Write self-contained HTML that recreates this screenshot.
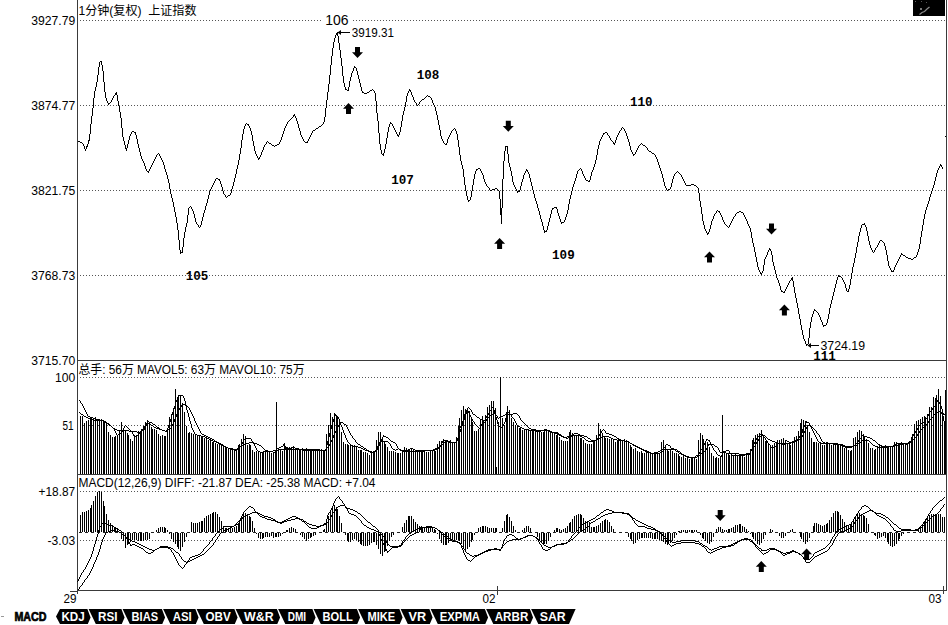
<!DOCTYPE html><html><head><meta charset="utf-8"><title>1分钟(复权) 上证指数</title><style>
html,body{margin:0;padding:0;background:#fff;}
body{width:948px;height:625px;overflow:hidden;position:relative;}
svg{display:block;position:absolute;left:0;top:0;}
text{font-family:"Liberation Sans","Noto Sans CJK SC",sans-serif;font-size:12px;fill:#000;}
.ax{text-anchor:end;}
.bn{font-family:"Liberation Mono","DejaVu Sans Mono",monospace;font-weight:bold;font-size:12.5px;}
.tab{font-family:"Liberation Sans",sans-serif;font-weight:bold;font-size:12.4px;fill:#fff;}
</style></head><body>
<svg width="948" height="625" viewBox="0 0 948 625">
<line x1="80" y1="20.5" x2="945" y2="20.5" stroke="#555" stroke-width="1" stroke-dasharray="1 2" shape-rendering="crispEdges"/>
<line x1="80" y1="105.5" x2="945" y2="105.5" stroke="#555" stroke-width="1" stroke-dasharray="1 2" shape-rendering="crispEdges"/>
<line x1="80" y1="190.5" x2="945" y2="190.5" stroke="#555" stroke-width="1" stroke-dasharray="1 2" shape-rendering="crispEdges"/>
<line x1="80" y1="275.5" x2="945" y2="275.5" stroke="#555" stroke-width="1" stroke-dasharray="1 2" shape-rendering="crispEdges"/>
<line x1="80" y1="377.5" x2="945" y2="377.5" stroke="#555" stroke-width="1" stroke-dasharray="1 2" shape-rendering="crispEdges"/>
<line x1="80" y1="425.5" x2="945" y2="425.5" stroke="#555" stroke-width="1" stroke-dasharray="1 2" shape-rendering="crispEdges"/>
<line x1="80" y1="491.5" x2="945" y2="491.5" stroke="#555" stroke-width="1" stroke-dasharray="1 2" shape-rendering="crispEdges"/>
<line x1="80" y1="540.5" x2="945" y2="540.5" stroke="#555" stroke-width="1" stroke-dasharray="1 2" shape-rendering="crispEdges"/>
<line x1="79" y1="532.5" x2="945" y2="532.5" stroke="#222" stroke-width="1" stroke-dasharray="3 3" shape-rendering="crispEdges"/>
<g stroke="#3a3a3a" stroke-width="1" shape-rendering="crispEdges">
<line x1="77.5" y1="0" x2="77.5" y2="594"/>
<line x1="946.5" y1="0" x2="946.5" y2="591"/>
<line x1="77" y1="360.5" x2="947" y2="360.5"/>
<line x1="77" y1="474.5" x2="947" y2="474.5"/>
<line x1="77" y1="590.5" x2="947" y2="590.5"/>
<line x1="70" y1="591.5" x2="77" y2="591.5"/>
<line x1="497.5" y1="586" x2="497.5" y2="595"/>
<line x1="943.5" y1="586" x2="943.5" y2="594"/>
</g>
<text x="31.3" y="24.5" textLength="44" lengthAdjust="spacingAndGlyphs">3927.79</text>
<text x="31.3" y="109.5" textLength="44" lengthAdjust="spacingAndGlyphs">3874.77</text>
<text x="31.3" y="194.5" textLength="44" lengthAdjust="spacingAndGlyphs">3821.75</text>
<text x="31.3" y="279.5" textLength="44" lengthAdjust="spacingAndGlyphs">3768.73</text>
<text x="31.3" y="364.5" textLength="44" lengthAdjust="spacingAndGlyphs">3715.70</text>
<text x="55.1" y="381.5" textLength="20.3" lengthAdjust="spacingAndGlyphs">100</text>
<text x="62.5" y="429.5" textLength="11.1" lengthAdjust="spacingAndGlyphs">51</text>
<text x="38.6" y="495.5" textLength="36.6" lengthAdjust="spacingAndGlyphs">+18.87</text>
<text x="47.6" y="544.5" textLength="27.6" lengthAdjust="spacingAndGlyphs">-3.03</text>
<text x="78.5" y="15" textLength="118" lengthAdjust="spacingAndGlyphs">1分钟(复权)&#160; 上证指数</text>
<text x="78.5" y="373.5" textLength="226" lengthAdjust="spacingAndGlyphs">总手: 56万 MAVOL5: 63万 MAVOL10: 75万</text>
<text x="78.5" y="487" textLength="297" lengthAdjust="spacingAndGlyphs">MACD(12,26,9) DIFF: -21.87 DEA: -25.38 MACD: +7.04</text>
<text x="63.5" y="603" textLength="13" lengthAdjust="spacingAndGlyphs">29</text>
<text x="482.5" y="603" textLength="13" lengthAdjust="spacingAndGlyphs">02</text>
<text x="928.5" y="603" textLength="13" lengthAdjust="spacingAndGlyphs">03</text>
<rect x="913" y="0" width="32" height="16" fill="#000"/>
<path d="M919.5 14.5 L922 12.5 L924.5 11.5 L927 9 L929.5 7" stroke="#8a8a8a" stroke-width="1.2" fill="none"/>
<rect x="920" y="8" width="2" height="2" fill="#777"/>
<rect x="915" y="1" width="1" height="1" fill="#666"/><rect x="921" y="1" width="1" height="1" fill="#555"/><rect x="926" y="2" width="1" height="1" fill="#555"/>
<rect x="945" y="136" width="1" height="1" fill="#000"/>
<path fill="#000" shape-rendering="crispEdges" d="M80 416h1V474h-1zM82 416h1V474h-1zM84 423h1V474h-1zM86 421h1V474h-1zM88 420h1V474h-1zM90 418h1V474h-1zM91 418h1V474h-1zM93 419h1V474h-1zM95 417h1V474h-1zM97 420h1V474h-1zM99 420h1V474h-1zM101 419h1V474h-1zM103 420h1V474h-1zM104 421h1V474h-1zM106 423h1V474h-1zM108 432h1V474h-1zM110 435h1V474h-1zM112 437h1V474h-1zM114 437h1V474h-1zM115 436h1V474h-1zM117 435h1V474h-1zM119 431h1V474h-1zM121 422h1V474h-1zM123 428h1V474h-1zM125 430h1V474h-1zM127 433h1V474h-1zM128 435h1V474h-1zM130 439h1V474h-1zM132 441h1V474h-1zM134 435h1V474h-1zM136 435h1V474h-1zM138 431h1V474h-1zM140 431h1V474h-1zM141 429h1V474h-1zM143 426h1V474h-1zM145 422h1V474h-1zM147 420h1V474h-1zM149 423h1V474h-1zM151 427h1V474h-1zM152 429h1V474h-1zM154 429h1V474h-1zM156 430h1V474h-1zM158 434h1V474h-1zM160 436h1V474h-1zM162 435h1V474h-1zM164 436h1V474h-1zM165 436h1V474h-1zM167 428h1V474h-1zM169 417h1V474h-1zM171 414h1V474h-1zM173 408h1V474h-1zM175 389h1V474h-1zM177 397h1V474h-1zM178 395h1V474h-1zM180 396h1V474h-1zM182 403h1V474h-1zM184 412h1V474h-1zM186 426h1V474h-1zM188 433h1V474h-1zM189 432h1V474h-1zM191 433h1V474h-1zM193 434h1V474h-1zM195 435h1V474h-1zM197 436h1V474h-1zM199 436h1V474h-1zM201 436h1V474h-1zM202 437h1V474h-1zM204 438h1V474h-1zM206 438h1V474h-1zM208 440h1V474h-1zM210 439h1V474h-1zM212 442h1V474h-1zM213 442h1V474h-1zM215 443h1V474h-1zM217 444h1V474h-1zM219 443h1V474h-1zM221 444h1V474h-1zM223 445h1V474h-1zM225 446h1V474h-1zM226 448h1V474h-1zM228 448h1V474h-1zM230 448h1V474h-1zM232 448h1V474h-1zM234 451h1V474h-1zM236 450h1V474h-1zM238 445h1V474h-1zM239 444h1V474h-1zM241 439h1V474h-1zM243 434h1V474h-1zM245 436h1V474h-1zM247 445h1V474h-1zM249 444h1V474h-1zM250 445h1V474h-1zM252 450h1V474h-1zM254 452h1V474h-1zM256 451h1V474h-1zM258 451h1V474h-1zM260 453h1V474h-1zM262 453h1V474h-1zM263 451h1V474h-1zM265 451h1V474h-1zM267 452h1V474h-1zM269 452h1V474h-1zM271 453h1V474h-1zM273 453h1V474h-1zM275 451h1V474h-1zM276 402h1V474h-1zM278 449h1V474h-1zM280 450h1V474h-1zM282 451h1V474h-1zM284 445h1V474h-1zM286 447h1V474h-1zM287 447h1V474h-1zM289 447h1V474h-1zM291 448h1V474h-1zM293 446h1V474h-1zM295 449h1V474h-1zM297 449h1V474h-1zM299 449h1V474h-1zM300 449h1V474h-1zM302 448h1V474h-1zM304 449h1V474h-1zM306 448h1V474h-1zM308 450h1V474h-1zM310 449h1V474h-1zM311 449h1V474h-1zM313 449h1V474h-1zM315 449h1V474h-1zM317 450h1V474h-1zM319 449h1V474h-1zM321 449h1V474h-1zM323 450h1V474h-1zM324 450h1V474h-1zM326 434h1V474h-1zM328 425h1V474h-1zM330 413h1V474h-1zM332 417h1V474h-1zM334 413h1V474h-1zM336 416h1V474h-1zM337 417h1V474h-1zM339 422h1V474h-1zM341 432h1V474h-1zM343 442h1V474h-1zM345 444h1V474h-1zM347 444h1V474h-1zM348 445h1V474h-1zM350 445h1V474h-1zM352 445h1V474h-1zM354 445h1V474h-1zM356 446h1V474h-1zM358 450h1V474h-1zM360 450h1V474h-1zM361 450h1V474h-1zM363 452h1V474h-1zM365 452h1V474h-1zM367 453h1V474h-1zM369 455h1V474h-1zM371 451h1V474h-1zM373 451h1V474h-1zM374 452h1V474h-1zM376 440h1V474h-1zM378 432h1V474h-1zM380 432h1V474h-1zM382 438h1V474h-1zM384 442h1V474h-1zM385 444h1V474h-1zM387 447h1V474h-1zM389 451h1V474h-1zM391 451h1V474h-1zM393 451h1V474h-1zM395 452h1V474h-1zM397 453h1V474h-1zM398 453h1V474h-1zM400 453h1V474h-1zM402 452h1V474h-1zM404 447h1V474h-1zM406 448h1V474h-1zM408 449h1V474h-1zM409 449h1V474h-1zM411 449h1V474h-1zM413 449h1V474h-1zM415 450h1V474h-1zM417 450h1V474h-1zM419 451h1V474h-1zM421 452h1V474h-1zM422 451h1V474h-1zM424 452h1V474h-1zM426 452h1V474h-1zM428 452h1V474h-1zM430 451h1V474h-1zM432 451h1V474h-1zM434 451h1V474h-1zM435 451h1V474h-1zM437 444h1V474h-1zM439 441h1V474h-1zM441 441h1V474h-1zM443 439h1V474h-1zM445 440h1V474h-1zM446 441h1V474h-1zM448 442h1V474h-1zM450 440h1V474h-1zM452 442h1V474h-1zM454 443h1V474h-1zM456 437h1V474h-1zM458 426h1V474h-1zM459 418h1V474h-1zM461 410h1V474h-1zM463 406h1V474h-1zM465 409h1V474h-1zM467 409h1V474h-1zM469 411h1V474h-1zM471 418h1V474h-1zM472 422h1V474h-1zM474 431h1V474h-1zM476 431h1V474h-1zM478 429h1V474h-1zM480 420h1V474h-1zM482 416h1V474h-1zM483 420h1V474h-1zM485 415h1V474h-1zM487 407h1V474h-1zM489 405h1V474h-1zM491 401h1V474h-1zM493 401h1V474h-1zM495 408h1V474h-1zM496 467h1V474h-1zM498 422h1V474h-1zM500 377h1V474h-1zM502 418h1V474h-1zM504 425h1V474h-1zM506 412h1V474h-1zM507 406h1V474h-1zM509 410h1V474h-1zM511 418h1V474h-1zM513 422h1V474h-1zM515 425h1V474h-1zM517 426h1V474h-1zM519 428h1V474h-1zM520 428h1V474h-1zM522 430h1V474h-1zM524 429h1V474h-1zM526 430h1V474h-1zM528 430h1V474h-1zM530 431h1V474h-1zM532 429h1V474h-1zM533 429h1V474h-1zM535 430h1V474h-1zM537 431h1V474h-1zM539 431h1V474h-1zM541 432h1V474h-1zM543 432h1V474h-1zM544 431h1V474h-1zM546 429h1V474h-1zM548 430h1V474h-1zM550 432h1V474h-1zM552 432h1V474h-1zM554 432h1V474h-1zM556 435h1V474h-1zM557 433h1V474h-1zM559 437h1V474h-1zM561 440h1V474h-1zM563 441h1V474h-1zM565 441h1V474h-1zM567 441h1V474h-1zM569 432h1V474h-1zM570 430h1V474h-1zM572 433h1V474h-1zM574 435h1V474h-1zM576 435h1V474h-1zM578 436h1V474h-1zM580 438h1V474h-1zM581 438h1V474h-1zM583 440h1V474h-1zM585 443h1V474h-1zM587 444h1V474h-1zM589 444h1V474h-1zM591 444h1V474h-1zM593 441h1V474h-1zM594 441h1V474h-1zM596 435h1V474h-1zM598 423h1V474h-1zM600 429h1V474h-1zM602 433h1V474h-1zM604 436h1V474h-1zM605 438h1V474h-1zM607 438h1V474h-1zM609 439h1V474h-1zM611 439h1V474h-1zM613 440h1V474h-1zM615 442h1V474h-1zM617 441h1V474h-1zM618 439h1V474h-1zM620 439h1V474h-1zM622 440h1V474h-1zM624 439h1V474h-1zM626 440h1V474h-1zM628 441h1V474h-1zM630 445h1V474h-1zM631 447h1V474h-1zM633 449h1V474h-1zM635 448h1V474h-1zM637 451h1V474h-1zM639 452h1V474h-1zM641 451h1V474h-1zM642 453h1V474h-1zM644 453h1V474h-1zM646 451h1V474h-1zM648 453h1V474h-1zM650 452h1V474h-1zM652 453h1V474h-1zM654 454h1V474h-1zM655 454h1V474h-1zM657 453h1V474h-1zM659 454h1V474h-1zM661 442h1V474h-1zM663 440h1V474h-1zM665 446h1V474h-1zM667 450h1V474h-1zM668 451h1V474h-1zM670 450h1V474h-1zM672 451h1V474h-1zM674 453h1V474h-1zM676 453h1V474h-1zM678 454h1V474h-1zM679 456h1V474h-1zM681 457h1V474h-1zM683 456h1V474h-1zM685 458h1V474h-1zM687 458h1V474h-1zM689 459h1V474h-1zM691 457h1V474h-1zM692 457h1V474h-1zM694 457h1V474h-1zM696 459h1V474h-1zM698 440h1V474h-1zM700 433h1V474h-1zM702 435h1V474h-1zM703 439h1V474h-1zM705 442h1V474h-1zM707 442h1V474h-1zM709 447h1V474h-1zM711 453h1V474h-1zM713 456h1V474h-1zM715 458h1V474h-1zM716 457h1V474h-1zM718 458h1V474h-1zM720 457h1V474h-1zM722 415h1V474h-1zM724 453h1V474h-1zM726 454h1V474h-1zM728 453h1V474h-1zM729 455h1V474h-1zM731 454h1V474h-1zM733 456h1V474h-1zM735 454h1V474h-1zM737 456h1V474h-1zM739 455h1V474h-1zM740 455h1V474h-1zM742 456h1V474h-1zM744 457h1V474h-1zM746 455h1V474h-1zM748 455h1V474h-1zM750 449h1V474h-1zM752 440h1V474h-1zM753 438h1V474h-1zM755 435h1V474h-1zM757 434h1V474h-1zM759 433h1V474h-1zM761 430h1V474h-1zM763 436h1V474h-1zM765 441h1V474h-1zM766 441h1V474h-1zM768 444h1V474h-1zM770 446h1V474h-1zM772 445h1V474h-1zM774 443h1V474h-1zM776 442h1V474h-1zM777 440h1V474h-1zM779 440h1V474h-1zM781 439h1V474h-1zM783 438h1V474h-1zM785 440h1V474h-1zM787 444h1V474h-1zM789 443h1V474h-1zM790 445h1V474h-1zM792 442h1V474h-1zM794 437h1V474h-1zM796 436h1V474h-1zM798 431h1V474h-1zM800 423h1V474h-1zM801 419h1V474h-1zM803 420h1V474h-1zM805 421h1V474h-1zM807 425h1V474h-1zM809 432h1V474h-1zM811 438h1V474h-1zM813 442h1V474h-1zM814 442h1V474h-1zM816 442h1V474h-1zM818 443h1V474h-1zM820 443h1V474h-1zM822 445h1V474h-1zM824 445h1V474h-1zM826 442h1V474h-1zM827 442h1V474h-1zM829 444h1V474h-1zM831 445h1V474h-1zM833 444h1V474h-1zM835 444h1V474h-1zM837 444h1V474h-1zM838 444h1V474h-1zM840 446h1V474h-1zM842 446h1V474h-1zM844 448h1V474h-1zM846 448h1V474h-1zM848 450h1V474h-1zM850 451h1V474h-1zM851 450h1V474h-1zM853 438h1V474h-1zM855 437h1V474h-1zM857 432h1V474h-1zM859 430h1V474h-1zM861 431h1V474h-1zM863 434h1V474h-1zM864 436h1V474h-1zM866 439h1V474h-1zM868 443h1V474h-1zM870 448h1V474h-1zM872 448h1V474h-1zM874 450h1V474h-1zM875 449h1V474h-1zM877 446h1V474h-1zM879 445h1V474h-1zM881 446h1V474h-1zM883 447h1V474h-1zM885 445h1V474h-1zM887 446h1V474h-1zM888 446h1V474h-1zM890 447h1V474h-1zM892 447h1V474h-1zM894 442h1V474h-1zM896 442h1V474h-1zM898 443h1V474h-1zM899 444h1V474h-1zM901 442h1V474h-1zM903 443h1V474h-1zM905 445h1V474h-1zM907 445h1V474h-1zM909 441h1V474h-1zM911 437h1V474h-1zM912 434h1V474h-1zM914 424h1V474h-1zM916 421h1V474h-1zM918 420h1V474h-1zM920 419h1V474h-1zM922 417h1V474h-1zM924 416h1V474h-1zM925 417h1V474h-1zM927 414h1V474h-1zM929 407h1V474h-1zM931 407h1V474h-1zM933 397h1V474h-1zM935 398h1V474h-1zM936 395h1V474h-1zM938 389h1V474h-1zM940 396h1V474h-1zM942 409h1V474h-1zM944 424h1V474h-1zM945 390h1V474h-1z"/>
<path fill="#000" shape-rendering="crispEdges" d="M79 400h1v1h-1zM80 401h1v2h-1zM81 403h1v1h-1zM82 404h1v2h-1zM83 406h1v2h-1zM84 408h1v2h-1zM85 410h1v2h-1zM86 412h1v2h-1zM87 414h1v2h-1zM88 416h1v1h-1zM89 416h1v1h-1zM90 417h1v1h-1zM91 417h1v1h-1zM92 417h1v1h-1zM93 418h1v1h-1zM94 418h1v1h-1zM95 419h1v1h-1zM96 419h1v1h-1zM97 419h1v1h-1zM98 419h1v1h-1zM99 419h1v1h-1zM100 420h1v1h-1zM101 420h1v1h-1zM102 420h1v1h-1zM103 420h1v1h-1zM104 421h1v1h-1zM105 422h1v1h-1zM106 422h1v1h-1zM107 423h1v1h-1zM108 424h1v1h-1zM109 425h1v1h-1zM110 425h1v1h-1zM111 426h1v1h-1zM112 427h1v1h-1zM113 428h1v1h-1zM114 428h1v1h-1zM115 429h1v1h-1zM116 429h1v1h-1zM117 430h1v1h-1zM118 430h1v1h-1zM119 430h1v1h-1zM120 430h1v1h-1zM121 430h1v1h-1zM122 430h1v1h-1zM123 430h1v1h-1zM124 430h1v1h-1zM125 430h1v1h-1zM126 430h1v1h-1zM127 430h1v1h-1zM128 430h1v1h-1zM129 431h1v1h-1zM130 431h1v1h-1zM131 431h1v1h-1zM132 431h1v1h-1zM133 431h1v1h-1zM134 431h1v1h-1zM135 431h1v1h-1zM136 431h1v1h-1zM137 432h1v1h-1zM138 432h1v1h-1zM139 432h1v1h-1zM140 431h1v1h-1zM141 431h1v1h-1zM142 430h1v1h-1zM143 430h1v1h-1zM144 428h1v2h-1zM145 426h1v2h-1zM146 423h1v3h-1zM147 421h1v2h-1zM148 421h1v1h-1zM149 422h1v1h-1zM150 422h1v1h-1zM151 422h1v1h-1zM152 423h1v1h-1zM153 424h1v1h-1zM154 424h1v1h-1zM155 425h1v1h-1zM156 426h1v1h-1zM157 427h1v1h-1zM158 427h1v1h-1zM159 428h1v1h-1zM160 429h1v1h-1zM161 429h1v1h-1zM162 430h1v1h-1zM163 430h1v1h-1zM164 430h1v1h-1zM165 431h1v1h-1zM166 430h1v2h-1zM167 428h1v2h-1zM168 425h1v3h-1zM169 422h1v3h-1zM170 419h1v3h-1zM171 415h1v4h-1zM172 412h1v3h-1zM173 409h1v3h-1zM174 406h1v3h-1zM175 402h1v4h-1zM176 400h1v2h-1zM177 398h1v2h-1zM178 396h1v2h-1zM179 395h1v1h-1zM180 395h1v1h-1zM181 395h1v1h-1zM182 395h1v1h-1zM183 396h1v2h-1zM184 398h1v3h-1zM185 401h1v5h-1zM186 406h1v4h-1zM187 410h1v3h-1zM188 413h1v4h-1zM189 417h1v4h-1zM190 421h1v3h-1zM191 424h1v4h-1zM192 428h1v2h-1zM193 430h1v2h-1zM194 432h1v2h-1zM195 434h1v1h-1zM196 434h1v1h-1zM197 435h1v1h-1zM198 435h1v1h-1zM199 435h1v1h-1zM200 435h1v1h-1zM201 436h1v1h-1zM202 436h1v1h-1zM203 436h1v1h-1zM204 436h1v1h-1zM205 437h1v1h-1zM206 437h1v1h-1zM207 438h1v1h-1zM208 438h1v1h-1zM209 439h1v1h-1zM210 439h1v1h-1zM211 440h1v1h-1zM212 440h1v1h-1zM213 441h1v1h-1zM214 441h1v1h-1zM215 441h1v1h-1zM216 442h1v1h-1zM217 442h1v1h-1zM218 442h1v1h-1zM219 443h1v1h-1zM220 443h1v1h-1zM221 444h1v1h-1zM222 444h1v1h-1zM223 445h1v1h-1zM224 446h1v1h-1zM225 446h1v1h-1zM226 447h1v1h-1zM227 447h1v1h-1zM228 448h1v1h-1zM229 448h1v1h-1zM230 448h1v1h-1zM231 449h1v1h-1zM232 449h1v1h-1zM233 449h1v1h-1zM234 450h1v1h-1zM235 450h1v1h-1zM236 450h1v1h-1zM237 449h1v1h-1zM238 448h1v1h-1zM239 447h1v1h-1zM240 446h1v1h-1zM241 444h1v2h-1zM242 442h1v2h-1zM243 440h1v2h-1zM244 439h1v1h-1zM245 438h1v1h-1zM246 438h1v1h-1zM247 438h1v1h-1zM248 438h1v1h-1zM249 438h1v1h-1zM250 438h1v1h-1zM251 439h1v2h-1zM252 441h1v2h-1zM253 443h1v1h-1zM254 444h1v2h-1zM255 446h1v2h-1zM256 448h1v2h-1zM257 450h1v1h-1zM258 451h1v1h-1zM259 451h1v1h-1zM260 452h1v1h-1zM261 452h1v1h-1zM262 452h1v1h-1zM263 451h1v1h-1zM264 451h1v1h-1zM265 451h1v1h-1zM266 451h1v1h-1zM267 451h1v1h-1zM268 451h1v1h-1zM269 451h1v1h-1zM270 451h1v1h-1zM271 451h1v1h-1zM272 451h1v1h-1zM273 452h1v1h-1zM274 452h1v1h-1zM275 450h1v2h-1zM276 449h1v1h-1zM277 448h1v1h-1zM278 448h1v1h-1zM279 447h1v1h-1zM280 447h1v1h-1zM281 446h1v1h-1zM282 446h1v1h-1zM283 444h1v2h-1zM284 443h1v3h-1zM285 446h1v4h-1zM286 449h1v1h-1zM287 448h1v1h-1zM288 448h1v1h-1zM289 448h1v1h-1zM290 448h1v1h-1zM291 447h1v1h-1zM292 447h1v1h-1zM293 447h1v1h-1zM294 447h1v1h-1zM295 448h1v1h-1zM296 448h1v1h-1zM297 448h1v1h-1zM298 448h1v1h-1zM299 449h1v1h-1zM300 449h1v1h-1zM301 449h1v1h-1zM302 449h1v1h-1zM303 449h1v1h-1zM304 449h1v1h-1zM305 449h1v1h-1zM306 449h1v1h-1zM307 449h1v1h-1zM308 449h1v1h-1zM309 449h1v1h-1zM310 449h1v1h-1zM311 449h1v1h-1zM312 449h1v1h-1zM313 449h1v1h-1zM314 449h1v1h-1zM315 449h1v1h-1zM316 449h1v1h-1zM317 449h1v1h-1zM318 449h1v1h-1zM319 449h1v1h-1zM320 450h1v1h-1zM321 450h1v1h-1zM322 450h1v1h-1zM323 450h1v1h-1zM324 450h1v1h-1zM325 449h1v2h-1zM326 445h1v4h-1zM327 441h1v4h-1zM328 437h1v4h-1zM329 433h1v4h-1zM330 429h1v4h-1zM331 425h1v4h-1zM332 422h1v3h-1zM333 419h1v3h-1zM334 416h1v3h-1zM335 414h1v2h-1zM336 415h1v1h-1zM337 416h1v1h-1zM338 417h1v2h-1zM339 419h1v3h-1zM340 422h1v3h-1zM341 425h1v2h-1zM342 427h1v3h-1zM343 430h1v3h-1zM344 433h1v2h-1zM345 435h1v3h-1zM346 438h1v2h-1zM347 440h1v2h-1zM348 442h1v1h-1zM349 443h1v1h-1zM350 444h1v1h-1zM351 445h1v1h-1zM352 445h1v1h-1zM353 446h1v1h-1zM354 446h1v1h-1zM355 446h1v1h-1zM356 446h1v1h-1zM357 446h1v1h-1zM358 447h1v1h-1zM359 447h1v1h-1zM360 447h1v1h-1zM361 448h1v1h-1zM362 448h1v1h-1zM363 449h1v1h-1zM364 449h1v1h-1zM365 450h1v1h-1zM366 450h1v1h-1zM367 450h1v1h-1zM368 451h1v1h-1zM369 451h1v1h-1zM370 452h1v1h-1zM371 452h1v1h-1zM372 452h1v1h-1zM373 451h1v1h-1zM374 451h1v1h-1zM375 450h1v2h-1zM376 448h1v2h-1zM377 446h1v2h-1zM378 444h1v2h-1zM379 442h1v2h-1zM380 440h1v2h-1zM381 440h1v1h-1zM382 441h1v1h-1zM383 441h1v1h-1zM384 441h1v1h-1zM385 441h1v1h-1zM386 441h1v1h-1zM387 441h1v1h-1zM388 442h1v1h-1zM389 443h1v1h-1zM390 444h1v2h-1zM391 446h1v2h-1zM392 448h1v1h-1zM393 449h1v1h-1zM394 449h1v1h-1zM395 450h1v1h-1zM396 449h1v1h-1zM397 449h1v1h-1zM398 448h1v1h-1zM399 449h1v1h-1zM400 450h1v1h-1zM401 450h1v1h-1zM402 451h1v1h-1zM403 451h1v1h-1zM404 451h1v1h-1zM405 450h1v1h-1zM406 450h1v1h-1zM407 450h1v1h-1zM408 449h1v1h-1zM409 449h1v1h-1zM410 448h1v1h-1zM411 448h1v1h-1zM412 448h1v1h-1zM413 449h1v1h-1zM414 449h1v1h-1zM415 450h1v1h-1zM416 450h1v1h-1zM417 450h1v1h-1zM418 450h1v1h-1zM419 450h1v1h-1zM420 450h1v1h-1zM421 450h1v1h-1zM422 450h1v1h-1zM423 450h1v1h-1zM424 450h1v1h-1zM425 450h1v1h-1zM426 450h1v1h-1zM427 450h1v1h-1zM428 450h1v1h-1zM429 450h1v1h-1zM430 450h1v1h-1zM431 450h1v1h-1zM432 450h1v1h-1zM433 450h1v1h-1zM434 450h1v1h-1zM435 449h1v1h-1zM436 449h1v1h-1zM437 448h1v1h-1zM438 448h1v1h-1zM439 447h1v1h-1zM440 445h1v2h-1zM441 443h1v2h-1zM442 441h1v2h-1zM443 440h1v1h-1zM444 440h1v1h-1zM445 440h1v1h-1zM446 440h1v1h-1zM447 440h1v1h-1zM448 441h1v1h-1zM449 441h1v1h-1zM450 442h1v1h-1zM451 442h1v1h-1zM452 442h1v1h-1zM453 442h1v1h-1zM454 442h1v1h-1zM455 442h1v1h-1zM456 441h1v1h-1zM457 438h1v3h-1zM458 432h1v6h-1zM459 428h1v4h-1zM460 426h1v2h-1zM461 424h1v2h-1zM462 421h1v3h-1zM463 418h1v3h-1zM464 414h1v4h-1zM465 412h1v2h-1zM466 410h1v2h-1zM467 408h1v2h-1zM468 407h1v1h-1zM469 408h1v1h-1zM470 409h1v1h-1zM471 410h1v2h-1zM472 412h1v2h-1zM473 414h1v1h-1zM474 414h1v1h-1zM475 415h1v1h-1zM476 416h1v1h-1zM477 417h1v1h-1zM478 417h1v1h-1zM479 418h1v1h-1zM480 419h1v1h-1zM481 419h1v1h-1zM482 419h1v1h-1zM483 420h1v1h-1zM484 420h1v1h-1zM485 418h1v2h-1zM486 416h1v2h-1zM487 415h1v1h-1zM488 413h1v2h-1zM489 411h1v2h-1zM490 410h1v1h-1zM491 408h1v2h-1zM492 407h1v1h-1zM493 408h1v2h-1zM494 410h1v3h-1zM495 413h1v4h-1zM496 417h1v3h-1zM497 420h1v4h-1zM498 424h1v3h-1zM499 426h1v1h-1zM500 427h1v1h-1zM501 427h1v1h-1zM502 426h1v1h-1zM503 424h1v2h-1zM504 422h1v2h-1zM505 418h1v4h-1zM506 414h1v4h-1zM507 411h1v3h-1zM508 412h1v1h-1zM509 413h1v1h-1zM510 414h1v1h-1zM511 415h1v2h-1zM512 417h1v1h-1zM513 418h1v1h-1zM514 419h1v2h-1zM515 421h1v2h-1zM516 423h1v2h-1zM517 425h1v1h-1zM518 426h1v1h-1zM519 426h1v1h-1zM520 427h1v1h-1zM521 427h1v1h-1zM522 428h1v1h-1zM523 428h1v1h-1zM524 429h1v1h-1zM525 429h1v1h-1zM526 429h1v1h-1zM527 429h1v1h-1zM528 429h1v1h-1zM529 430h1v1h-1zM530 430h1v1h-1zM531 430h1v1h-1zM532 430h1v1h-1zM533 430h1v1h-1zM534 430h1v1h-1zM535 430h1v1h-1zM536 431h1v1h-1zM537 431h1v1h-1zM538 431h1v1h-1zM539 431h1v1h-1zM540 431h1v1h-1zM541 430h1v1h-1zM542 430h1v1h-1zM543 430h1v1h-1zM544 429h1v1h-1zM545 429h1v1h-1zM546 429h1v1h-1zM547 430h1v1h-1zM548 430h1v1h-1zM549 431h1v1h-1zM550 431h1v1h-1zM551 432h1v1h-1zM552 432h1v1h-1zM553 432h1v1h-1zM554 432h1v1h-1zM555 432h1v1h-1zM556 432h1v1h-1zM557 432h1v1h-1zM558 433h1v1h-1zM559 434h1v1h-1zM560 434h1v1h-1zM561 435h1v1h-1zM562 436h1v1h-1zM563 436h1v1h-1zM564 437h1v1h-1zM565 437h1v1h-1zM566 438h1v1h-1zM567 438h1v1h-1zM568 437h1v1h-1zM569 436h1v1h-1zM570 436h1v1h-1zM571 435h1v1h-1zM572 434h1v1h-1zM573 434h1v1h-1zM574 433h1v1h-1zM575 433h1v1h-1zM576 433h1v1h-1zM577 433h1v1h-1zM578 434h1v1h-1zM579 434h1v1h-1zM580 435h1v1h-1zM581 435h1v1h-1zM582 435h1v1h-1zM583 435h1v1h-1zM584 436h1v1h-1zM585 436h1v1h-1zM586 436h1v1h-1zM587 437h1v1h-1zM588 438h1v1h-1zM589 438h1v1h-1zM590 439h1v1h-1zM591 440h1v1h-1zM592 440h1v1h-1zM593 440h1v1h-1zM594 440h1v1h-1zM595 440h1v1h-1zM596 440h1v1h-1zM597 438h1v2h-1zM598 436h1v2h-1zM599 434h1v2h-1zM600 433h1v1h-1zM601 431h1v2h-1zM602 430h1v1h-1zM603 429h1v1h-1zM604 430h1v1h-1zM605 431h1v2h-1zM606 433h1v1h-1zM607 433h1v1h-1zM608 433h1v1h-1zM609 434h1v1h-1zM610 434h1v1h-1zM611 434h1v1h-1zM612 435h1v1h-1zM613 435h1v1h-1zM614 436h1v1h-1zM615 436h1v1h-1zM616 437h1v1h-1zM617 438h1v1h-1zM618 438h1v1h-1zM619 439h1v1h-1zM620 439h1v1h-1zM621 440h1v1h-1zM622 440h1v1h-1zM623 440h1v1h-1zM624 440h1v1h-1zM625 441h1v1h-1zM626 441h1v1h-1zM627 441h1v1h-1zM628 441h1v1h-1zM629 442h1v1h-1zM630 443h1v1h-1zM631 443h1v1h-1zM632 444h1v1h-1zM633 444h1v1h-1zM634 445h1v1h-1zM635 445h1v1h-1zM636 446h1v1h-1zM637 446h1v1h-1zM638 447h1v1h-1zM639 447h1v1h-1zM640 448h1v1h-1zM641 449h1v1h-1zM642 449h1v1h-1zM643 450h1v1h-1zM644 450h1v1h-1zM645 451h1v1h-1zM646 451h1v1h-1zM647 452h1v1h-1zM648 452h1v1h-1zM649 452h1v1h-1zM650 452h1v1h-1zM651 453h1v1h-1zM652 453h1v1h-1zM653 453h1v1h-1zM654 452h1v1h-1zM655 452h1v1h-1zM656 452h1v1h-1zM657 452h1v1h-1zM658 451h1v1h-1zM659 451h1v1h-1zM660 450h1v1h-1zM661 449h1v1h-1zM662 449h1v1h-1zM663 448h1v1h-1zM664 447h1v1h-1zM665 445h1v2h-1zM666 444h1v1h-1zM667 444h1v1h-1zM668 445h1v1h-1zM669 445h1v1h-1zM670 446h1v2h-1zM671 448h1v1h-1zM672 448h1v1h-1zM673 448h1v1h-1zM674 449h1v1h-1zM675 449h1v1h-1zM676 449h1v1h-1zM677 450h1v1h-1zM678 451h1v1h-1zM679 451h1v1h-1zM680 452h1v1h-1zM681 453h1v1h-1zM682 454h1v1h-1zM683 454h1v1h-1zM684 455h1v1h-1zM685 456h1v1h-1zM686 456h1v1h-1zM687 457h1v1h-1zM688 457h1v1h-1zM689 457h1v1h-1zM690 457h1v1h-1zM691 457h1v1h-1zM692 457h1v1h-1zM693 457h1v1h-1zM694 457h1v1h-1zM695 456h1v1h-1zM696 455h1v1h-1zM697 455h1v1h-1zM698 454h1v1h-1zM699 452h1v2h-1zM700 450h1v2h-1zM701 449h1v1h-1zM702 447h1v2h-1zM703 445h1v2h-1zM704 443h1v2h-1zM705 441h1v2h-1zM706 439h1v2h-1zM707 439h1v1h-1zM708 440h1v1h-1zM709 440h1v2h-1zM710 442h1v2h-1zM711 444h1v2h-1zM712 446h1v2h-1zM713 448h1v2h-1zM714 450h1v1h-1zM715 451h1v1h-1zM716 452h1v2h-1zM717 454h1v1h-1zM718 455h1v1h-1zM719 455h1v1h-1zM720 456h1v1h-1zM721 455h1v2h-1zM722 453h1v2h-1zM723 451h1v2h-1zM724 451h1v1h-1zM725 451h1v1h-1zM726 450h1v1h-1zM727 450h1v1h-1zM728 450h1v1h-1zM729 451h1v2h-1zM730 453h1v1h-1zM731 454h1v1h-1zM732 455h1v1h-1zM733 455h1v1h-1zM734 455h1v1h-1zM735 455h1v1h-1zM736 455h1v1h-1zM737 455h1v1h-1zM738 455h1v1h-1zM739 455h1v1h-1zM740 455h1v1h-1zM741 455h1v1h-1zM742 455h1v1h-1zM743 455h1v1h-1zM744 455h1v1h-1zM745 454h1v1h-1zM746 454h1v1h-1zM747 454h1v1h-1zM748 454h1v1h-1zM749 453h1v2h-1zM750 451h1v2h-1zM751 449h1v2h-1zM752 446h1v3h-1zM753 444h1v2h-1zM754 442h1v2h-1zM755 440h1v2h-1zM756 438h1v2h-1zM757 437h1v1h-1zM758 436h1v1h-1zM759 435h1v1h-1zM760 434h1v1h-1zM761 433h1v1h-1zM762 434h1v2h-1zM763 436h1v1h-1zM764 437h1v1h-1zM765 438h1v2h-1zM766 440h1v1h-1zM767 441h1v2h-1zM768 443h1v1h-1zM769 444h1v1h-1zM770 445h1v2h-1zM771 447h1v1h-1zM772 447h1v1h-1zM773 447h1v1h-1zM774 447h1v1h-1zM775 446h1v1h-1zM776 445h1v1h-1zM777 444h1v1h-1zM778 443h1v1h-1zM779 443h1v1h-1zM780 443h1v1h-1zM781 443h1v1h-1zM782 443h1v1h-1zM783 443h1v1h-1zM784 443h1v1h-1zM785 441h1v2h-1zM786 440h1v1h-1zM787 441h1v1h-1zM788 441h1v1h-1zM789 442h1v1h-1zM790 442h1v1h-1zM791 442h1v1h-1zM792 441h1v1h-1zM793 441h1v1h-1zM794 441h1v1h-1zM795 440h1v1h-1zM796 440h1v1h-1zM797 439h1v1h-1zM798 438h1v1h-1zM799 436h1v2h-1zM800 435h1v1h-1zM801 433h1v2h-1zM802 429h1v4h-1zM803 427h1v2h-1zM804 425h1v2h-1zM805 423h1v2h-1zM806 421h1v2h-1zM807 422h1v1h-1zM808 422h1v1h-1zM809 423h1v2h-1zM810 425h1v2h-1zM811 427h1v2h-1zM812 429h1v2h-1zM813 431h1v2h-1zM814 433h1v2h-1zM815 435h1v2h-1zM816 437h1v2h-1zM817 439h1v2h-1zM818 441h1v1h-1zM819 442h1v1h-1zM820 442h1v1h-1zM821 443h1v1h-1zM822 443h1v1h-1zM823 443h1v1h-1zM824 443h1v1h-1zM825 443h1v1h-1zM826 443h1v1h-1zM827 443h1v1h-1zM828 443h1v1h-1zM829 443h1v1h-1zM830 443h1v1h-1zM831 443h1v1h-1zM832 443h1v1h-1zM833 443h1v1h-1zM834 444h1v1h-1zM835 444h1v1h-1zM836 444h1v1h-1zM837 444h1v1h-1zM838 444h1v1h-1zM839 444h1v1h-1zM840 445h1v1h-1zM841 445h1v1h-1zM842 445h1v1h-1zM843 446h1v1h-1zM844 446h1v1h-1zM845 447h1v1h-1zM846 447h1v1h-1zM847 447h1v1h-1zM848 447h1v1h-1zM849 447h1v1h-1zM850 447h1v1h-1zM851 447h1v1h-1zM852 446h1v1h-1zM853 445h1v1h-1zM854 445h1v1h-1zM855 444h1v1h-1zM856 443h1v1h-1zM857 442h1v1h-1zM858 440h1v2h-1zM859 439h1v1h-1zM860 438h1v1h-1zM861 436h1v2h-1zM862 435h1v1h-1zM863 435h1v1h-1zM864 436h1v1h-1zM865 436h1v1h-1zM866 436h1v1h-1zM867 437h1v1h-1zM868 437h1v1h-1zM869 437h1v1h-1zM870 438h1v1h-1zM871 438h1v1h-1zM872 439h1v1h-1zM873 440h1v1h-1zM874 440h1v1h-1zM875 441h1v1h-1zM876 442h1v1h-1zM877 443h1v1h-1zM878 444h1v1h-1zM879 444h1v1h-1zM880 445h1v1h-1zM881 445h1v1h-1zM882 446h1v1h-1zM883 446h1v1h-1zM884 446h1v1h-1zM885 446h1v1h-1zM886 446h1v1h-1zM887 446h1v1h-1zM888 446h1v1h-1zM889 446h1v1h-1zM890 446h1v1h-1zM891 446h1v1h-1zM892 446h1v1h-1zM893 445h1v1h-1zM894 445h1v1h-1zM895 444h1v1h-1zM896 444h1v1h-1zM897 443h1v1h-1zM898 443h1v1h-1zM899 443h1v1h-1zM900 443h1v1h-1zM901 443h1v1h-1zM902 443h1v1h-1zM903 443h1v1h-1zM904 443h1v1h-1zM905 444h1v1h-1zM906 444h1v1h-1zM907 444h1v1h-1zM908 443h1v1h-1zM909 443h1v1h-1zM910 441h1v2h-1zM911 438h1v3h-1zM912 436h1v2h-1zM913 434h1v2h-1zM914 433h1v1h-1zM915 431h1v2h-1zM916 430h1v1h-1zM917 428h1v2h-1zM918 426h1v2h-1zM919 425h1v1h-1zM920 424h1v1h-1zM921 423h1v1h-1zM922 423h1v1h-1zM923 422h1v1h-1zM924 421h1v1h-1zM925 419h1v2h-1zM926 418h1v1h-1zM927 416h1v2h-1zM928 414h1v2h-1zM929 412h1v2h-1zM930 411h1v1h-1zM931 410h1v1h-1zM932 408h1v2h-1zM933 407h1v1h-1zM934 406h1v1h-1zM935 404h1v2h-1zM936 402h1v2h-1zM937 400h1v2h-1zM938 401h1v1h-1zM939 402h1v2h-1zM940 404h1v2h-1zM941 406h1v3h-1zM942 409h1v4h-1zM943 413h1v2h-1zM944 414h1v1h-1z"/>
<path fill="#000" shape-rendering="crispEdges" d="M79 412h1v1h-1zM80 413h1v1h-1zM81 414h1v1h-1zM82 414h1v1h-1zM83 415h1v1h-1zM84 416h1v1h-1zM85 416h1v1h-1zM86 417h1v1h-1zM87 417h1v1h-1zM88 418h1v1h-1zM89 418h1v1h-1zM90 418h1v1h-1zM91 419h1v1h-1zM92 419h1v1h-1zM93 419h1v1h-1zM94 420h1v1h-1zM95 420h1v1h-1zM96 420h1v1h-1zM97 420h1v1h-1zM98 420h1v1h-1zM99 420h1v1h-1zM100 420h1v1h-1zM101 420h1v1h-1zM102 420h1v1h-1zM103 421h1v1h-1zM104 421h1v1h-1zM105 421h1v1h-1zM106 422h1v1h-1zM107 423h1v1h-1zM108 423h1v1h-1zM109 424h1v1h-1zM110 425h1v1h-1zM111 426h1v1h-1zM112 427h1v1h-1zM113 428h1v1h-1zM114 429h1v2h-1zM115 431h1v2h-1zM116 433h1v2h-1zM117 435h1v1h-1zM118 434h1v1h-1zM119 433h1v1h-1zM120 433h1v1h-1zM121 432h1v1h-1zM122 430h1v2h-1zM123 428h1v2h-1zM124 426h1v2h-1zM125 425h1v1h-1zM126 426h1v1h-1zM127 427h1v1h-1zM128 428h1v1h-1zM129 429h1v1h-1zM130 430h1v1h-1zM131 431h1v1h-1zM132 432h1v2h-1zM133 434h1v2h-1zM134 436h1v2h-1zM135 436h1v1h-1zM136 436h1v1h-1zM137 435h1v1h-1zM138 434h1v1h-1zM139 433h1v1h-1zM140 432h1v1h-1zM141 431h1v1h-1zM142 429h1v2h-1zM143 428h1v1h-1zM144 426h1v2h-1zM145 425h1v1h-1zM146 424h1v1h-1zM147 424h1v1h-1zM148 423h1v1h-1zM149 423h1v1h-1zM150 424h1v1h-1zM151 425h1v1h-1zM152 425h1v1h-1zM153 426h1v1h-1zM154 427h1v1h-1zM155 427h1v1h-1zM156 428h1v1h-1zM157 428h1v1h-1zM158 428h1v1h-1zM159 429h1v1h-1zM160 429h1v1h-1zM161 429h1v1h-1zM162 430h1v1h-1zM163 430h1v1h-1zM164 430h1v1h-1zM165 431h1v1h-1zM166 431h1v1h-1zM167 430h1v1h-1zM168 429h1v1h-1zM169 429h1v1h-1zM170 428h1v1h-1zM171 426h1v2h-1zM172 424h1v2h-1zM173 422h1v2h-1zM174 419h1v3h-1zM175 417h1v2h-1zM176 414h1v3h-1zM177 412h1v2h-1zM178 410h1v2h-1zM179 408h1v2h-1zM180 407h1v1h-1zM181 405h1v2h-1zM182 404h1v1h-1zM183 404h1v1h-1zM184 404h1v1h-1zM185 404h1v1h-1zM186 405h1v1h-1zM187 406h1v1h-1zM188 407h1v1h-1zM189 408h1v2h-1zM190 410h1v2h-1zM191 412h1v2h-1zM192 414h1v2h-1zM193 416h1v2h-1zM194 418h1v3h-1zM195 421h1v2h-1zM196 423h1v2h-1zM197 425h1v2h-1zM198 427h1v2h-1zM199 429h1v2h-1zM200 431h1v2h-1zM201 433h1v1h-1zM202 434h1v1h-1zM203 434h1v1h-1zM204 435h1v1h-1zM205 435h1v1h-1zM206 436h1v1h-1zM207 436h1v1h-1zM208 437h1v1h-1zM209 437h1v1h-1zM210 438h1v1h-1zM211 438h1v1h-1zM212 439h1v1h-1zM213 439h1v1h-1zM214 440h1v1h-1zM215 441h1v1h-1zM216 441h1v1h-1zM217 442h1v1h-1zM218 443h1v1h-1zM219 443h1v1h-1zM220 444h1v1h-1zM221 444h1v1h-1zM222 445h1v1h-1zM223 445h1v1h-1zM224 446h1v1h-1zM225 446h1v1h-1zM226 447h1v1h-1zM227 447h1v1h-1zM228 448h1v1h-1zM229 448h1v1h-1zM230 448h1v1h-1zM231 448h1v1h-1zM232 448h1v1h-1zM233 449h1v1h-1zM234 449h1v1h-1zM235 449h1v1h-1zM236 449h1v1h-1zM237 448h1v1h-1zM238 448h1v1h-1zM239 447h1v1h-1zM240 446h1v1h-1zM241 446h1v1h-1zM242 445h1v1h-1zM243 445h1v1h-1zM244 444h1v1h-1zM245 444h1v1h-1zM246 443h1v1h-1zM247 443h1v1h-1zM248 443h1v1h-1zM249 442h1v1h-1zM250 442h1v1h-1zM251 442h1v1h-1zM252 442h1v1h-1zM253 442h1v1h-1zM254 443h1v1h-1zM255 443h1v1h-1zM256 443h1v1h-1zM257 444h1v1h-1zM258 444h1v1h-1zM259 445h1v1h-1zM260 445h1v1h-1zM261 446h1v1h-1zM262 447h1v1h-1zM263 448h1v1h-1zM264 449h1v1h-1zM265 450h1v1h-1zM266 450h1v1h-1zM267 450h1v1h-1zM268 451h1v1h-1zM269 451h1v1h-1zM270 451h1v1h-1zM271 451h1v1h-1zM272 451h1v1h-1zM273 450h1v1h-1zM274 450h1v1h-1zM275 450h1v1h-1zM276 450h1v1h-1zM277 450h1v1h-1zM278 449h1v1h-1zM279 449h1v1h-1zM280 449h1v1h-1zM281 449h1v1h-1zM282 449h1v1h-1zM283 449h1v1h-1zM284 449h1v1h-1zM285 449h1v1h-1zM286 449h1v1h-1zM287 449h1v1h-1zM288 449h1v1h-1zM289 449h1v1h-1zM290 449h1v1h-1zM291 449h1v1h-1zM292 449h1v1h-1zM293 449h1v1h-1zM294 449h1v1h-1zM295 449h1v1h-1zM296 449h1v1h-1zM297 449h1v1h-1zM298 449h1v1h-1zM299 449h1v1h-1zM300 449h1v1h-1zM301 449h1v1h-1zM302 450h1v1h-1zM303 450h1v1h-1zM304 450h1v1h-1zM305 450h1v1h-1zM306 450h1v1h-1zM307 450h1v1h-1zM308 450h1v1h-1zM309 450h1v1h-1zM310 450h1v1h-1zM311 450h1v1h-1zM312 450h1v1h-1zM313 450h1v1h-1zM314 450h1v1h-1zM315 450h1v1h-1zM316 450h1v1h-1zM317 450h1v1h-1zM318 450h1v1h-1zM319 450h1v1h-1zM320 450h1v1h-1zM321 450h1v1h-1zM322 450h1v1h-1zM323 450h1v1h-1zM324 450h1v1h-1zM325 450h1v1h-1zM326 448h1v2h-1zM327 447h1v1h-1zM328 446h1v1h-1zM329 444h1v2h-1zM330 442h1v2h-1zM331 440h1v2h-1zM332 438h1v2h-1zM333 435h1v3h-1zM334 433h1v2h-1zM335 431h1v2h-1zM336 429h1v2h-1zM337 427h1v2h-1zM338 425h1v2h-1zM339 423h1v2h-1zM340 423h1v1h-1zM341 422h1v1h-1zM342 422h1v1h-1zM343 423h1v1h-1zM344 424h1v1h-1zM345 424h1v1h-1zM346 425h1v2h-1zM347 427h1v2h-1zM348 429h1v2h-1zM349 431h1v2h-1zM350 433h1v2h-1zM351 435h1v1h-1zM352 436h1v2h-1zM353 438h1v1h-1zM354 439h1v1h-1zM355 440h1v2h-1zM356 442h1v1h-1zM357 443h1v1h-1zM358 444h1v1h-1zM359 444h1v1h-1zM360 445h1v1h-1zM361 446h1v1h-1zM362 446h1v1h-1zM363 447h1v1h-1zM364 448h1v1h-1zM365 448h1v1h-1zM366 449h1v1h-1zM367 450h1v1h-1zM368 450h1v1h-1zM369 451h1v1h-1zM370 451h1v1h-1zM371 452h1v1h-1zM372 452h1v1h-1zM373 452h1v1h-1zM374 451h1v1h-1zM375 450h1v1h-1zM376 450h1v1h-1zM377 448h1v2h-1zM378 446h1v2h-1zM379 444h1v2h-1zM380 442h1v2h-1zM381 439h1v3h-1zM382 437h1v2h-1zM383 435h1v2h-1zM384 436h1v1h-1zM385 436h1v1h-1zM386 437h1v1h-1zM387 437h1v1h-1zM388 438h1v1h-1zM389 439h1v1h-1zM390 440h1v1h-1zM391 441h1v1h-1zM392 441h1v1h-1zM393 442h1v1h-1zM394 442h1v1h-1zM395 443h1v1h-1zM396 444h1v2h-1zM397 446h1v2h-1zM398 448h1v1h-1zM399 449h1v1h-1zM400 449h1v1h-1zM401 450h1v1h-1zM402 450h1v1h-1zM403 450h1v1h-1zM404 450h1v1h-1zM405 451h1v1h-1zM406 451h1v1h-1zM407 451h1v1h-1zM408 451h1v1h-1zM409 451h1v1h-1zM410 451h1v1h-1zM411 451h1v1h-1zM412 451h1v1h-1zM413 451h1v1h-1zM414 451h1v1h-1zM415 451h1v1h-1zM416 451h1v1h-1zM417 451h1v1h-1zM418 451h1v1h-1zM419 451h1v1h-1zM420 451h1v1h-1zM421 451h1v1h-1zM422 451h1v1h-1zM423 451h1v1h-1zM424 451h1v1h-1zM425 450h1v1h-1zM426 450h1v1h-1zM427 450h1v1h-1zM428 450h1v1h-1zM429 450h1v1h-1zM430 450h1v1h-1zM431 450h1v1h-1zM432 450h1v1h-1zM433 449h1v1h-1zM434 449h1v1h-1zM435 448h1v1h-1zM436 448h1v1h-1zM437 448h1v1h-1zM438 447h1v1h-1zM439 447h1v1h-1zM440 446h1v1h-1zM441 445h1v1h-1zM442 444h1v1h-1zM443 443h1v1h-1zM444 442h1v1h-1zM445 441h1v1h-1zM446 441h1v1h-1zM447 441h1v1h-1zM448 442h1v1h-1zM449 442h1v1h-1zM450 442h1v1h-1zM451 442h1v1h-1zM452 442h1v1h-1zM453 442h1v1h-1zM454 442h1v1h-1zM455 442h1v1h-1zM456 441h1v1h-1zM457 439h1v2h-1zM458 436h1v3h-1zM459 432h1v4h-1zM460 429h1v3h-1zM461 426h1v3h-1zM462 423h1v3h-1zM463 420h1v3h-1zM464 417h1v3h-1zM465 414h1v3h-1zM466 412h1v2h-1zM467 410h1v2h-1zM468 411h1v2h-1zM469 413h1v2h-1zM470 415h1v2h-1zM471 417h1v2h-1zM472 419h1v2h-1zM473 421h1v1h-1zM474 422h1v2h-1zM475 424h1v1h-1zM476 425h1v1h-1zM477 426h1v1h-1zM478 427h1v1h-1zM479 428h1v1h-1zM480 426h1v2h-1zM481 424h1v2h-1zM482 423h1v1h-1zM483 422h1v1h-1zM484 422h1v1h-1zM485 421h1v1h-1zM486 419h1v2h-1zM487 418h1v1h-1zM488 417h1v1h-1zM489 416h1v1h-1zM490 415h1v1h-1zM491 414h1v1h-1zM492 414h1v1h-1zM493 413h1v1h-1zM494 413h1v1h-1zM495 414h1v1h-1zM496 415h1v1h-1zM497 416h1v2h-1zM498 418h1v1h-1zM499 417h1v1h-1zM500 417h1v1h-1zM501 416h1v1h-1zM502 416h1v1h-1zM503 415h1v1h-1zM504 415h1v1h-1zM505 414h1v1h-1zM506 414h1v1h-1zM507 414h1v1h-1zM508 414h1v1h-1zM509 414h1v1h-1zM510 414h1v1h-1zM511 414h1v1h-1zM512 414h1v1h-1zM513 413h1v1h-1zM514 413h1v1h-1zM515 413h1v1h-1zM516 413h1v1h-1zM517 414h1v1h-1zM518 415h1v1h-1zM519 416h1v2h-1zM520 418h1v2h-1zM521 420h1v1h-1zM522 421h1v1h-1zM523 422h1v1h-1zM524 423h1v1h-1zM525 424h1v1h-1zM526 425h1v1h-1zM527 426h1v1h-1zM528 427h1v1h-1zM529 428h1v1h-1zM530 428h1v1h-1zM531 429h1v1h-1zM532 429h1v1h-1zM533 429h1v1h-1zM534 429h1v1h-1zM535 429h1v1h-1zM536 430h1v1h-1zM537 430h1v1h-1zM538 430h1v1h-1zM539 430h1v1h-1zM540 430h1v1h-1zM541 430h1v1h-1zM542 430h1v1h-1zM543 430h1v1h-1zM544 430h1v1h-1zM545 430h1v1h-1zM546 430h1v1h-1zM547 430h1v1h-1zM548 430h1v1h-1zM549 430h1v1h-1zM550 431h1v1h-1zM551 431h1v1h-1zM552 432h1v1h-1zM553 432h1v1h-1zM554 433h1v1h-1zM555 433h1v1h-1zM556 433h1v1h-1zM557 434h1v1h-1zM558 434h1v1h-1zM559 435h1v1h-1zM560 435h1v1h-1zM561 436h1v1h-1zM562 436h1v1h-1zM563 437h1v1h-1zM564 437h1v1h-1zM565 437h1v1h-1zM566 437h1v1h-1zM567 436h1v1h-1zM568 436h1v1h-1zM569 436h1v1h-1zM570 436h1v1h-1zM571 436h1v1h-1zM572 435h1v1h-1zM573 435h1v1h-1zM574 435h1v1h-1zM575 435h1v1h-1zM576 435h1v1h-1zM577 435h1v1h-1zM578 435h1v1h-1zM579 435h1v1h-1zM580 436h1v1h-1zM581 436h1v1h-1zM582 437h1v1h-1zM583 437h1v1h-1zM584 438h1v1h-1zM585 439h1v1h-1zM586 440h1v1h-1zM587 440h1v1h-1zM588 441h1v1h-1zM589 441h1v1h-1zM590 441h1v1h-1zM591 441h1v1h-1zM592 441h1v1h-1zM593 441h1v1h-1zM594 440h1v1h-1zM595 440h1v1h-1zM596 439h1v1h-1zM597 439h1v1h-1zM598 438h1v1h-1zM599 438h1v1h-1zM600 437h1v1h-1zM601 437h1v1h-1zM602 436h1v1h-1zM603 436h1v1h-1zM604 436h1v1h-1zM605 436h1v1h-1zM606 436h1v1h-1zM607 436h1v1h-1zM608 436h1v1h-1zM609 437h1v1h-1zM610 437h1v1h-1zM611 438h1v1h-1zM612 438h1v1h-1zM613 439h1v1h-1zM614 439h1v1h-1zM615 439h1v1h-1zM616 439h1v1h-1zM617 440h1v1h-1zM618 440h1v1h-1zM619 440h1v1h-1zM620 440h1v1h-1zM621 440h1v1h-1zM622 440h1v1h-1zM623 440h1v1h-1zM624 441h1v1h-1zM625 441h1v1h-1zM626 441h1v1h-1zM627 441h1v1h-1zM628 441h1v1h-1zM629 442h1v1h-1zM630 443h1v1h-1zM631 443h1v1h-1zM632 444h1v1h-1zM633 445h1v1h-1zM634 445h1v1h-1zM635 446h1v1h-1zM636 446h1v1h-1zM637 447h1v1h-1zM638 447h1v1h-1zM639 448h1v1h-1zM640 448h1v1h-1zM641 448h1v1h-1zM642 449h1v1h-1zM643 449h1v1h-1zM644 450h1v1h-1zM645 450h1v1h-1zM646 450h1v1h-1zM647 451h1v1h-1zM648 451h1v1h-1zM649 452h1v1h-1zM650 452h1v1h-1zM651 453h1v1h-1zM652 453h1v1h-1zM653 453h1v1h-1zM654 453h1v1h-1zM655 453h1v1h-1zM656 453h1v1h-1zM657 453h1v1h-1zM658 453h1v1h-1zM659 453h1v1h-1zM660 452h1v1h-1zM661 451h1v1h-1zM662 451h1v1h-1zM663 450h1v1h-1zM664 449h1v1h-1zM665 449h1v1h-1zM666 449h1v1h-1zM667 449h1v1h-1zM668 449h1v1h-1zM669 449h1v1h-1zM670 449h1v1h-1zM671 449h1v1h-1zM672 449h1v1h-1zM673 449h1v1h-1zM674 449h1v1h-1zM675 450h1v1h-1zM676 451h1v1h-1zM677 451h1v1h-1zM678 452h1v1h-1zM679 453h1v1h-1zM680 453h1v1h-1zM681 454h1v1h-1zM682 454h1v1h-1zM683 455h1v1h-1zM684 455h1v1h-1zM685 455h1v1h-1zM686 456h1v1h-1zM687 456h1v1h-1zM688 456h1v1h-1zM689 457h1v1h-1zM690 457h1v1h-1zM691 457h1v1h-1zM692 457h1v1h-1zM693 457h1v1h-1zM694 457h1v1h-1zM695 457h1v1h-1zM696 457h1v1h-1zM697 456h1v1h-1zM698 455h1v1h-1zM699 455h1v1h-1zM700 454h1v1h-1zM701 453h1v1h-1zM702 452h1v1h-1zM703 451h1v1h-1zM704 451h1v1h-1zM705 450h1v1h-1zM706 448h1v2h-1zM707 446h1v2h-1zM708 444h1v2h-1zM709 444h1v1h-1zM710 444h1v1h-1zM711 444h1v1h-1zM712 444h1v1h-1zM713 444h1v1h-1zM714 445h1v1h-1zM715 446h1v1h-1zM716 446h1v1h-1zM717 447h1v1h-1zM718 448h1v2h-1zM719 450h1v2h-1zM720 452h1v1h-1zM721 452h1v1h-1zM722 452h1v1h-1zM723 452h1v1h-1zM724 452h1v1h-1zM725 452h1v1h-1zM726 453h1v1h-1zM727 453h1v1h-1zM728 453h1v1h-1zM729 453h1v1h-1zM730 453h1v1h-1zM731 453h1v1h-1zM732 453h1v1h-1zM733 453h1v1h-1zM734 453h1v1h-1zM735 453h1v1h-1zM736 453h1v1h-1zM737 453h1v1h-1zM738 453h1v1h-1zM739 454h1v1h-1zM740 454h1v1h-1zM741 454h1v1h-1zM742 454h1v1h-1zM743 454h1v1h-1zM744 454h1v1h-1zM745 454h1v1h-1zM746 453h1v1h-1zM747 453h1v1h-1zM748 453h1v1h-1zM749 453h1v1h-1zM750 451h1v2h-1zM751 450h1v1h-1zM752 449h1v1h-1zM753 447h1v2h-1zM754 446h1v1h-1zM755 444h1v2h-1zM756 442h1v2h-1zM757 441h1v1h-1zM758 439h1v2h-1zM759 437h1v2h-1zM760 436h1v1h-1zM761 436h1v1h-1zM762 435h1v1h-1zM763 435h1v1h-1zM764 435h1v1h-1zM765 436h1v1h-1zM766 437h1v1h-1zM767 438h1v1h-1zM768 439h1v1h-1zM769 439h1v1h-1zM770 440h1v1h-1zM771 440h1v1h-1zM772 441h1v1h-1zM773 441h1v1h-1zM774 441h1v1h-1zM775 442h1v1h-1zM776 442h1v1h-1zM777 443h1v1h-1zM778 443h1v1h-1zM779 443h1v1h-1zM780 443h1v1h-1zM781 444h1v1h-1zM782 444h1v1h-1zM783 444h1v1h-1zM784 444h1v1h-1zM785 444h1v1h-1zM786 443h1v1h-1zM787 443h1v1h-1zM788 443h1v1h-1zM789 443h1v1h-1zM790 443h1v1h-1zM791 442h1v1h-1zM792 442h1v1h-1zM793 442h1v1h-1zM794 442h1v1h-1zM795 441h1v1h-1zM796 441h1v1h-1zM797 440h1v1h-1zM798 440h1v1h-1zM799 439h1v1h-1zM800 439h1v1h-1zM801 437h1v2h-1zM802 435h1v2h-1zM803 433h1v2h-1zM804 431h1v2h-1zM805 429h1v2h-1zM806 427h1v2h-1zM807 425h1v2h-1zM808 425h1v1h-1zM809 425h1v1h-1zM810 425h1v1h-1zM811 426h1v1h-1zM812 427h1v1h-1zM813 428h1v1h-1zM814 429h1v1h-1zM815 430h1v1h-1zM816 431h1v2h-1zM817 433h1v1h-1zM818 434h1v1h-1zM819 435h1v2h-1zM820 437h1v2h-1zM821 439h1v2h-1zM822 441h1v1h-1zM823 442h1v1h-1zM824 442h1v1h-1zM825 443h1v1h-1zM826 443h1v1h-1zM827 443h1v1h-1zM828 443h1v1h-1zM829 443h1v1h-1zM830 443h1v1h-1zM831 443h1v1h-1zM832 443h1v1h-1zM833 443h1v1h-1zM834 443h1v1h-1zM835 443h1v1h-1zM836 443h1v1h-1zM837 443h1v1h-1zM838 444h1v1h-1zM839 444h1v1h-1zM840 444h1v1h-1zM841 444h1v1h-1zM842 444h1v1h-1zM843 445h1v1h-1zM844 445h1v1h-1zM845 446h1v1h-1zM846 446h1v1h-1zM847 446h1v1h-1zM848 446h1v1h-1zM849 446h1v1h-1zM850 446h1v1h-1zM851 446h1v1h-1zM852 446h1v1h-1zM853 446h1v1h-1zM854 445h1v1h-1zM855 445h1v1h-1zM856 445h1v1h-1zM857 444h1v1h-1zM858 443h1v1h-1zM859 442h1v1h-1zM860 442h1v1h-1zM861 441h1v1h-1zM862 440h1v1h-1zM863 440h1v1h-1zM864 440h1v1h-1zM865 440h1v1h-1zM866 440h1v1h-1zM867 440h1v1h-1zM868 440h1v1h-1zM869 441h1v1h-1zM870 442h1v1h-1zM871 443h1v1h-1zM872 444h1v1h-1zM873 445h1v1h-1zM874 445h1v1h-1zM875 446h1v1h-1zM876 446h1v1h-1zM877 447h1v1h-1zM878 447h1v1h-1zM879 447h1v1h-1zM880 447h1v1h-1zM881 447h1v1h-1zM882 447h1v1h-1zM883 447h1v1h-1zM884 447h1v1h-1zM885 447h1v1h-1zM886 447h1v1h-1zM887 447h1v1h-1zM888 447h1v1h-1zM889 446h1v1h-1zM890 446h1v1h-1zM891 446h1v1h-1zM892 446h1v1h-1zM893 446h1v1h-1zM894 445h1v1h-1zM895 445h1v1h-1zM896 445h1v1h-1zM897 445h1v1h-1zM898 444h1v1h-1zM899 444h1v1h-1zM900 444h1v1h-1zM901 444h1v1h-1zM902 444h1v1h-1zM903 443h1v1h-1zM904 443h1v1h-1zM905 443h1v1h-1zM906 443h1v1h-1zM907 443h1v1h-1zM908 442h1v1h-1zM909 442h1v1h-1zM910 441h1v1h-1zM911 441h1v1h-1zM912 440h1v1h-1zM913 439h1v1h-1zM914 438h1v1h-1zM915 437h1v1h-1zM916 436h1v1h-1zM917 434h1v2h-1zM918 433h1v1h-1zM919 431h1v2h-1zM920 430h1v1h-1zM921 429h1v1h-1zM922 428h1v1h-1zM923 427h1v1h-1zM924 426h1v1h-1zM925 425h1v1h-1zM926 424h1v1h-1zM927 423h1v1h-1zM928 421h1v2h-1zM929 420h1v1h-1zM930 419h1v1h-1zM931 418h1v1h-1zM932 417h1v1h-1zM933 415h1v2h-1zM934 414h1v1h-1zM935 413h1v1h-1zM936 413h1v1h-1zM937 412h1v1h-1zM938 412h1v1h-1zM939 411h1v1h-1zM940 411h1v1h-1zM941 412h1v2h-1zM942 414h1v2h-1zM943 416h1v5h-1zM944 421h1v5h-1z"/>
<path fill="#000" shape-rendering="crispEdges" d="M80 515h1V532h-1zM82 512h1V532h-1zM84 512h1V532h-1zM86 511h1V532h-1zM88 510h1V532h-1zM90 508h1V532h-1zM91 505h1V532h-1zM93 501h1V532h-1zM95 496h1V532h-1zM97 492h1V532h-1zM99 491h1V532h-1zM101 492h1V532h-1zM103 501h1V532h-1zM104 506h1V532h-1zM106 514h1V532h-1zM108 520h1V532h-1zM110 523h1V532h-1zM112 525h1V532h-1zM114 527h1V532h-1zM115 527h1V532h-1zM117 529h1V532h-1zM121 533h1V539h-1zM123 533h1V541h-1zM125 533h1V548h-1zM127 533h1V545h-1zM128 533h1V544h-1zM130 533h1V542h-1zM132 533h1V540h-1zM134 533h1V540h-1zM136 533h1V540h-1zM138 533h1V541h-1zM140 533h1V541h-1zM141 533h1V541h-1zM143 533h1V541h-1zM145 533h1V540h-1zM147 533h1V540h-1zM149 533h1V539h-1zM156 530h1V532h-1zM158 528h1V532h-1zM160 527h1V532h-1zM162 527h1V532h-1zM164 527h1V532h-1zM165 528h1V532h-1zM167 530h1V532h-1zM169 533h1V534h-1zM171 533h1V539h-1zM173 533h1V542h-1zM175 533h1V544h-1zM177 533h1V547h-1zM178 533h1V549h-1zM180 533h1V551h-1zM182 533h1V547h-1zM184 533h1V542h-1zM186 533h1V537h-1zM191 522h1V532h-1zM193 523h1V532h-1zM195 523h1V532h-1zM197 523h1V532h-1zM199 522h1V532h-1zM201 521h1V532h-1zM202 521h1V532h-1zM204 518h1V532h-1zM206 516h1V532h-1zM208 515h1V532h-1zM210 514h1V532h-1zM212 513h1V532h-1zM213 512h1V532h-1zM215 512h1V532h-1zM217 514h1V532h-1zM219 517h1V532h-1zM221 521h1V532h-1zM223 526h1V532h-1zM225 528h1V532h-1zM226 528h1V532h-1zM228 529h1V532h-1zM230 528h1V532h-1zM232 528h1V532h-1zM234 527h1V532h-1zM236 526h1V532h-1zM238 523h1V532h-1zM239 521h1V532h-1zM241 517h1V532h-1zM243 514h1V532h-1zM245 513h1V532h-1zM247 514h1V532h-1zM249 516h1V532h-1zM250 517h1V532h-1zM252 521h1V532h-1zM254 528h1V532h-1zM256 533h1V534h-1zM258 533h1V538h-1zM260 533h1V539h-1zM262 533h1V539h-1zM263 533h1V538h-1zM265 533h1V537h-1zM267 533h1V537h-1zM269 533h1V537h-1zM271 533h1V536h-1zM273 533h1V538h-1zM275 533h1V537h-1zM276 533h1V537h-1zM278 533h1V537h-1zM280 533h1V536h-1zM282 533h1V534h-1zM286 530h1V532h-1zM287 530h1V532h-1zM289 528h1V532h-1zM291 527h1V532h-1zM293 528h1V532h-1zM295 529h1V532h-1zM300 533h1V535h-1zM302 533h1V537h-1zM304 533h1V539h-1zM306 533h1V541h-1zM308 533h1V539h-1zM310 533h1V538h-1zM311 533h1V537h-1zM313 533h1V536h-1zM315 533h1V535h-1zM323 530h1V532h-1zM324 529h1V532h-1zM326 523h1V532h-1zM328 516h1V532h-1zM330 510h1V532h-1zM332 506h1V532h-1zM334 505h1V532h-1zM336 507h1V532h-1zM337 509h1V532h-1zM339 516h1V532h-1zM341 523h1V532h-1zM345 533h1V535h-1zM347 533h1V541h-1zM348 533h1V542h-1zM350 533h1V542h-1zM352 533h1V540h-1zM354 533h1V539h-1zM356 533h1V540h-1zM358 533h1V542h-1zM360 533h1V544h-1zM361 533h1V545h-1zM363 533h1V546h-1zM365 533h1V546h-1zM367 533h1V546h-1zM369 533h1V545h-1zM371 533h1V543h-1zM373 533h1V542h-1zM374 533h1V542h-1zM376 533h1V545h-1zM378 533h1V549h-1zM380 533h1V554h-1zM382 533h1V556h-1zM384 533h1V552h-1zM385 533h1V551h-1zM387 533h1V546h-1zM389 533h1V541h-1zM391 533h1V537h-1zM393 533h1V535h-1zM402 527h1V532h-1zM404 523h1V532h-1zM406 520h1V532h-1zM408 516h1V532h-1zM409 516h1V532h-1zM411 516h1V532h-1zM413 519h1V532h-1zM415 522h1V532h-1zM417 524h1V532h-1zM419 526h1V532h-1zM421 526h1V532h-1zM422 527h1V532h-1zM424 527h1V532h-1zM426 527h1V532h-1zM428 528h1V532h-1zM430 528h1V532h-1zM432 528h1V532h-1zM434 529h1V532h-1zM435 530h1V532h-1zM437 533h1V534h-1zM439 533h1V539h-1zM441 533h1V543h-1zM443 533h1V545h-1zM445 533h1V545h-1zM446 533h1V545h-1zM448 533h1V543h-1zM450 533h1V541h-1zM452 533h1V540h-1zM454 533h1V540h-1zM456 533h1V540h-1zM458 533h1V540h-1zM459 533h1V541h-1zM461 533h1V544h-1zM463 533h1V548h-1zM465 533h1V550h-1zM467 533h1V549h-1zM469 533h1V547h-1zM471 533h1V542h-1zM472 533h1V540h-1zM474 533h1V535h-1zM478 528h1V532h-1zM480 527h1V532h-1zM482 526h1V532h-1zM483 526h1V532h-1zM485 526h1V532h-1zM487 527h1V532h-1zM489 528h1V532h-1zM491 528h1V532h-1zM493 528h1V532h-1zM495 528h1V532h-1zM496 528h1V532h-1zM502 528h1V532h-1zM504 521h1V532h-1zM506 515h1V532h-1zM507 514h1V532h-1zM509 517h1V532h-1zM511 521h1V532h-1zM513 526h1V532h-1zM515 530h1V532h-1zM522 530h1V532h-1zM524 528h1V532h-1zM526 526h1V532h-1zM528 526h1V532h-1zM530 528h1V532h-1zM537 533h1V537h-1zM539 533h1V541h-1zM541 533h1V543h-1zM543 533h1V544h-1zM544 533h1V544h-1zM546 533h1V544h-1zM548 533h1V541h-1zM550 533h1V537h-1zM554 530h1V532h-1zM556 528h1V532h-1zM557 528h1V532h-1zM559 529h1V532h-1zM561 530h1V532h-1zM563 529h1V532h-1zM565 528h1V532h-1zM567 526h1V532h-1zM569 523h1V532h-1zM570 522h1V532h-1zM572 519h1V532h-1zM574 516h1V532h-1zM576 515h1V532h-1zM578 514h1V532h-1zM580 514h1V532h-1zM581 515h1V532h-1zM583 518h1V532h-1zM585 521h1V532h-1zM587 522h1V532h-1zM589 522h1V532h-1zM591 527h1V532h-1zM593 527h1V532h-1zM594 527h1V532h-1zM596 526h1V532h-1zM598 525h1V532h-1zM600 523h1V532h-1zM602 521h1V532h-1zM604 520h1V532h-1zM605 519h1V532h-1zM607 520h1V532h-1zM609 522h1V532h-1zM611 526h1V532h-1zM613 529h1V532h-1zM628 533h1V537h-1zM630 533h1V539h-1zM631 533h1V541h-1zM633 533h1V544h-1zM635 533h1V543h-1zM637 533h1V540h-1zM639 533h1V539h-1zM641 533h1V538h-1zM642 533h1V538h-1zM644 533h1V538h-1zM646 533h1V538h-1zM648 533h1V538h-1zM650 533h1V538h-1zM652 533h1V539h-1zM654 533h1V539h-1zM655 533h1V539h-1zM657 533h1V539h-1zM659 533h1V540h-1zM661 533h1V541h-1zM663 533h1V542h-1zM665 533h1V544h-1zM667 533h1V545h-1zM668 533h1V544h-1zM670 533h1V543h-1zM672 533h1V541h-1zM674 533h1V538h-1zM676 533h1V535h-1zM678 531h1V532h-1zM679 531h1V532h-1zM681 530h1V532h-1zM683 530h1V532h-1zM685 530h1V532h-1zM687 530h1V532h-1zM689 530h1V532h-1zM691 530h1V532h-1zM692 530h1V532h-1zM694 530h1V532h-1zM696 530h1V532h-1zM700 533h1V535h-1zM702 533h1V538h-1zM703 533h1V539h-1zM705 533h1V541h-1zM707 533h1V543h-1zM709 533h1V544h-1zM711 533h1V542h-1zM713 533h1V537h-1zM716 529h1V532h-1zM718 527h1V532h-1zM720 527h1V532h-1zM722 529h1V532h-1zM724 530h1V532h-1zM726 530h1V532h-1zM728 529h1V532h-1zM729 529h1V532h-1zM731 528h1V532h-1zM733 527h1V532h-1zM735 525h1V532h-1zM737 525h1V532h-1zM739 524h1V532h-1zM740 524h1V532h-1zM742 526h1V532h-1zM744 527h1V532h-1zM746 529h1V532h-1zM748 531h1V532h-1zM750 533h1V534h-1zM752 533h1V537h-1zM753 533h1V539h-1zM755 533h1V541h-1zM757 533h1V544h-1zM759 533h1V545h-1zM761 533h1V543h-1zM763 533h1V539h-1zM765 533h1V535h-1zM770 529h1V532h-1zM772 530h1V532h-1zM779 533h1V536h-1zM781 533h1V538h-1zM783 533h1V538h-1zM785 533h1V536h-1zM790 530h1V532h-1zM792 529h1V532h-1zM800 533h1V537h-1zM801 533h1V539h-1zM803 533h1V542h-1zM805 533h1V544h-1zM807 533h1V542h-1zM809 533h1V538h-1zM813 526h1V532h-1zM814 523h1V532h-1zM816 523h1V532h-1zM818 524h1V532h-1zM820 525h1V532h-1zM822 526h1V532h-1zM824 525h1V532h-1zM826 524h1V532h-1zM827 523h1V532h-1zM829 520h1V532h-1zM831 517h1V532h-1zM833 513h1V532h-1zM835 511h1V532h-1zM837 511h1V532h-1zM838 512h1V532h-1zM840 515h1V532h-1zM842 519h1V532h-1zM844 522h1V532h-1zM846 525h1V532h-1zM848 525h1V532h-1zM850 524h1V532h-1zM851 523h1V532h-1zM853 520h1V532h-1zM855 517h1V532h-1zM857 514h1V532h-1zM859 513h1V532h-1zM861 514h1V532h-1zM863 515h1V532h-1zM864 516h1V532h-1zM866 518h1V532h-1zM868 524h1V532h-1zM874 533h1V535h-1zM875 533h1V536h-1zM877 533h1V539h-1zM879 533h1V538h-1zM881 533h1V537h-1zM883 533h1V536h-1zM885 533h1V538h-1zM887 533h1V542h-1zM888 533h1V544h-1zM890 533h1V546h-1zM892 533h1V547h-1zM894 533h1V546h-1zM896 533h1V544h-1zM898 533h1V541h-1zM899 533h1V539h-1zM901 533h1V536h-1zM903 533h1V534h-1zM918 529h1V532h-1zM920 527h1V532h-1zM922 524h1V532h-1zM924 521h1V532h-1zM925 519h1V532h-1zM927 516h1V532h-1zM929 515h1V532h-1zM931 514h1V532h-1zM933 514h1V532h-1zM935 514h1V532h-1zM936 514h1V532h-1zM938 514h1V532h-1zM940 514h1V532h-1zM942 517h1V532h-1zM944 517h1V532h-1z"/>
<path fill="#000" shape-rendering="crispEdges" d="M77 581h1v1h-1zM78 579h1v2h-1zM79 577h1v2h-1zM80 575h1v2h-1zM81 573h1v2h-1zM82 572h1v1h-1zM83 570h1v2h-1zM84 569h1v1h-1zM85 567h1v2h-1zM86 565h1v2h-1zM87 563h1v2h-1zM88 561h1v2h-1zM89 559h1v2h-1zM90 557h1v2h-1zM91 554h1v3h-1zM92 551h1v3h-1zM93 547h1v4h-1zM94 544h1v3h-1zM95 541h1v3h-1zM96 537h1v4h-1zM97 534h1v3h-1zM98 530h1v4h-1zM99 527h1v3h-1zM100 526h1v1h-1zM101 524h1v2h-1zM102 523h1v1h-1zM103 523h1v1h-1zM104 523h1v1h-1zM105 523h1v1h-1zM106 523h1v1h-1zM107 524h1v1h-1zM108 524h1v1h-1zM109 525h1v1h-1zM110 525h1v1h-1zM111 525h1v1h-1zM112 526h1v1h-1zM113 526h1v1h-1zM114 527h1v1h-1zM115 527h1v1h-1zM116 528h1v1h-1zM117 528h1v1h-1zM118 529h1v1h-1zM119 530h1v1h-1zM120 530h1v1h-1zM121 531h1v1h-1zM122 532h1v1h-1zM123 533h1v2h-1zM124 535h1v1h-1zM125 536h1v1h-1zM126 537h1v2h-1zM127 539h1v1h-1zM128 540h1v2h-1zM129 542h1v2h-1zM130 544h1v2h-1zM131 545h1v1h-1zM132 544h1v1h-1zM133 544h1v1h-1zM134 544h1v1h-1zM135 545h1v1h-1zM136 545h1v1h-1zM137 546h1v1h-1zM138 546h1v1h-1zM139 547h1v1h-1zM140 547h1v1h-1zM141 548h1v1h-1zM142 548h1v1h-1zM143 549h1v1h-1zM144 550h1v1h-1zM145 551h1v1h-1zM146 552h1v1h-1zM147 552h1v1h-1zM148 553h1v1h-1zM149 553h1v1h-1zM150 553h1v1h-1zM151 552h1v1h-1zM152 552h1v1h-1zM153 551h1v1h-1zM154 550h1v1h-1zM155 549h1v1h-1zM156 549h1v1h-1zM157 548h1v1h-1zM158 548h1v1h-1zM159 547h1v1h-1zM160 547h1v1h-1zM161 547h1v1h-1zM162 547h1v1h-1zM163 547h1v1h-1zM164 547h1v1h-1zM165 547h1v1h-1zM166 547h1v1h-1zM167 547h1v1h-1zM168 548h1v1h-1zM169 548h1v1h-1zM170 549h1v1h-1zM171 550h1v2h-1zM172 552h1v1h-1zM173 553h1v2h-1zM174 555h1v2h-1zM175 557h1v2h-1zM176 559h1v2h-1zM177 561h1v2h-1zM178 563h1v2h-1zM179 565h1v1h-1zM180 566h1v1h-1zM181 567h1v1h-1zM182 568h1v1h-1zM183 567h1v1h-1zM184 565h1v2h-1zM185 564h1v1h-1zM186 562h1v2h-1zM187 561h1v1h-1zM188 560h1v1h-1zM189 558h1v2h-1zM190 557h1v1h-1zM191 557h1v1h-1zM192 556h1v1h-1zM193 556h1v1h-1zM194 556h1v1h-1zM195 555h1v1h-1zM196 555h1v1h-1zM197 555h1v1h-1zM198 554h1v1h-1zM199 554h1v1h-1zM200 553h1v1h-1zM201 552h1v1h-1zM202 551h1v1h-1zM203 549h1v2h-1zM204 548h1v1h-1zM205 547h1v1h-1zM206 546h1v1h-1zM207 545h1v1h-1zM208 544h1v1h-1zM209 542h1v2h-1zM210 541h1v1h-1zM211 540h1v1h-1zM212 538h1v2h-1zM213 537h1v1h-1zM214 536h1v1h-1zM215 534h1v2h-1zM216 533h1v1h-1zM217 532h1v1h-1zM218 531h1v1h-1zM219 530h1v1h-1zM220 529h1v1h-1zM221 529h1v1h-1zM222 528h1v1h-1zM223 527h1v1h-1zM224 526h1v1h-1zM225 526h1v1h-1zM226 526h1v1h-1zM227 526h1v1h-1zM228 526h1v1h-1zM229 526h1v1h-1zM230 526h1v1h-1zM231 526h1v1h-1zM232 526h1v1h-1zM233 526h1v1h-1zM234 525h1v1h-1zM235 524h1v1h-1zM236 523h1v1h-1zM237 522h1v1h-1zM238 521h1v1h-1zM239 520h1v1h-1zM240 518h1v2h-1zM241 516h1v2h-1zM242 514h1v2h-1zM243 512h1v2h-1zM244 511h1v1h-1zM245 510h1v1h-1zM246 509h1v1h-1zM247 508h1v1h-1zM248 507h1v1h-1zM249 506h1v1h-1zM250 506h1v1h-1zM251 507h1v1h-1zM252 507h1v1h-1zM253 508h1v1h-1zM254 509h1v2h-1zM255 511h1v1h-1zM256 512h1v1h-1zM257 513h1v1h-1zM258 514h1v1h-1zM259 515h1v1h-1zM260 516h1v1h-1zM261 516h1v1h-1zM262 517h1v1h-1zM263 517h1v1h-1zM264 517h1v1h-1zM265 518h1v1h-1zM266 518h1v1h-1zM267 519h1v1h-1zM268 519h1v1h-1zM269 519h1v1h-1zM270 519h1v1h-1zM271 520h1v1h-1zM272 520h1v1h-1zM273 520h1v1h-1zM274 520h1v1h-1zM275 521h1v1h-1zM276 521h1v1h-1zM277 522h1v1h-1zM278 522h1v1h-1zM279 522h1v1h-1zM280 522h1v1h-1zM281 522h1v1h-1zM282 521h1v1h-1zM283 521h1v1h-1zM284 520h1v1h-1zM285 520h1v1h-1zM286 519h1v1h-1zM287 519h1v1h-1zM288 518h1v1h-1zM289 518h1v1h-1zM290 517h1v1h-1zM291 517h1v1h-1zM292 516h1v1h-1zM293 516h1v1h-1zM294 516h1v1h-1zM295 516h1v1h-1zM296 517h1v1h-1zM297 517h1v1h-1zM298 518h1v1h-1zM299 518h1v1h-1zM300 519h1v1h-1zM301 519h1v1h-1zM302 519h1v1h-1zM303 520h1v1h-1zM304 521h1v1h-1zM305 521h1v1h-1zM306 522h1v1h-1zM307 523h1v1h-1zM308 523h1v1h-1zM309 524h1v1h-1zM310 524h1v1h-1zM311 524h1v1h-1zM312 525h1v1h-1zM313 525h1v1h-1zM314 525h1v1h-1zM315 525h1v1h-1zM316 526h1v1h-1zM317 526h1v1h-1zM318 526h1v1h-1zM319 526h1v1h-1zM320 525h1v1h-1zM321 525h1v1h-1zM322 525h1v1h-1zM323 524h1v1h-1zM324 523h1v1h-1zM325 523h1v1h-1zM326 519h1v4h-1zM327 515h1v4h-1zM328 513h1v2h-1zM329 512h1v1h-1zM330 510h1v2h-1zM331 508h1v2h-1zM332 506h1v2h-1zM333 503h1v3h-1zM334 501h1v2h-1zM335 499h1v2h-1zM336 498h1v1h-1zM337 497h1v1h-1zM338 496h1v1h-1zM339 497h1v2h-1zM340 499h1v1h-1zM341 500h1v1h-1zM342 501h1v2h-1zM343 503h1v1h-1zM344 504h1v2h-1zM345 506h1v2h-1zM346 508h1v1h-1zM347 509h1v2h-1zM348 511h1v2h-1zM349 513h1v1h-1zM350 513h1v1h-1zM351 514h1v1h-1zM352 514h1v1h-1zM353 514h1v1h-1zM354 515h1v1h-1zM355 515h1v1h-1zM356 516h1v1h-1zM357 517h1v1h-1zM358 518h1v1h-1zM359 519h1v1h-1zM360 520h1v1h-1zM361 521h1v2h-1zM362 523h1v1h-1zM363 524h1v1h-1zM364 525h1v1h-1zM365 525h1v1h-1zM366 526h1v1h-1zM367 527h1v1h-1zM368 527h1v1h-1zM369 528h1v1h-1zM370 528h1v1h-1zM371 529h1v1h-1zM372 529h1v1h-1zM373 529h1v1h-1zM374 530h1v1h-1zM375 530h1v1h-1zM376 531h1v1h-1zM377 531h1v1h-1zM378 532h1v2h-1zM379 534h1v2h-1zM380 536h1v3h-1zM381 539h1v2h-1zM382 541h1v2h-1zM383 543h1v2h-1zM384 545h1v2h-1zM385 547h1v2h-1zM386 549h1v2h-1zM387 551h1v2h-1zM388 551h1v1h-1zM389 550h1v1h-1zM390 549h1v1h-1zM391 548h1v1h-1zM392 547h1v1h-1zM393 546h1v1h-1zM394 546h1v1h-1zM395 546h1v1h-1zM396 546h1v1h-1zM397 546h1v1h-1zM398 546h1v1h-1zM399 545h1v1h-1zM400 545h1v1h-1zM401 543h1v2h-1zM402 541h1v2h-1zM403 540h1v1h-1zM404 539h1v1h-1zM405 537h1v2h-1zM406 536h1v1h-1zM407 535h1v1h-1zM408 534h1v1h-1zM409 533h1v1h-1zM410 533h1v1h-1zM411 532h1v1h-1zM412 531h1v1h-1zM413 530h1v1h-1zM414 530h1v1h-1zM415 529h1v1h-1zM416 529h1v1h-1zM417 529h1v1h-1zM418 528h1v1h-1zM419 528h1v1h-1zM420 527h1v1h-1zM421 527h1v1h-1zM422 527h1v1h-1zM423 527h1v1h-1zM424 527h1v1h-1zM425 527h1v1h-1zM426 526h1v1h-1zM427 526h1v1h-1zM428 526h1v1h-1zM429 526h1v1h-1zM430 526h1v1h-1zM431 526h1v1h-1zM432 527h1v1h-1zM433 527h1v1h-1zM434 527h1v1h-1zM435 528h1v1h-1zM436 528h1v1h-1zM437 529h1v1h-1zM438 530h1v1h-1zM439 531h1v1h-1zM440 532h1v1h-1zM441 533h1v1h-1zM442 534h1v1h-1zM443 535h1v1h-1zM444 536h1v1h-1zM445 537h1v1h-1zM446 538h1v1h-1zM447 538h1v1h-1zM448 539h1v1h-1zM449 540h1v1h-1zM450 540h1v1h-1zM451 540h1v1h-1zM452 541h1v1h-1zM453 541h1v1h-1zM454 541h1v1h-1zM455 541h1v1h-1zM456 541h1v1h-1zM457 542h1v1h-1zM458 542h1v1h-1zM459 543h1v1h-1zM460 543h1v2h-1zM461 545h1v3h-1zM462 548h1v2h-1zM463 550h1v3h-1zM464 553h1v2h-1zM465 555h1v2h-1zM466 557h1v2h-1zM467 559h1v1h-1zM468 560h1v1h-1zM469 560h1v1h-1zM470 561h1v1h-1zM471 560h1v1h-1zM472 559h1v1h-1zM473 558h1v1h-1zM474 557h1v1h-1zM475 556h1v1h-1zM476 556h1v1h-1zM477 555h1v1h-1zM478 555h1v1h-1zM479 554h1v1h-1zM480 554h1v1h-1zM481 553h1v1h-1zM482 553h1v1h-1zM483 552h1v1h-1zM484 552h1v1h-1zM485 551h1v1h-1zM486 551h1v1h-1zM487 551h1v1h-1zM488 550h1v1h-1zM489 550h1v1h-1zM490 550h1v1h-1zM491 549h1v1h-1zM492 549h1v1h-1zM493 549h1v1h-1zM494 548h1v1h-1zM495 548h1v1h-1zM496 548h1v1h-1zM497 549h1v1h-1zM498 549h1v1h-1zM499 550h1v1h-1zM500 549h1v2h-1zM501 547h1v2h-1zM502 544h1v3h-1zM503 541h1v3h-1zM504 539h1v2h-1zM505 538h1v1h-1zM506 536h1v2h-1zM507 535h1v1h-1zM508 535h1v1h-1zM509 534h1v1h-1zM510 534h1v1h-1zM511 534h1v1h-1zM512 535h1v1h-1zM513 535h1v1h-1zM514 536h1v1h-1zM515 537h1v1h-1zM516 538h1v1h-1zM517 538h1v1h-1zM518 539h1v1h-1zM519 539h1v1h-1zM520 539h1v1h-1zM521 538h1v1h-1zM522 538h1v1h-1zM523 537h1v1h-1zM524 537h1v1h-1zM525 536h1v1h-1zM526 536h1v1h-1zM527 535h1v1h-1zM528 535h1v1h-1zM529 535h1v1h-1zM530 535h1v1h-1zM531 535h1v1h-1zM532 535h1v1h-1zM533 536h1v1h-1zM534 536h1v1h-1zM535 537h1v1h-1zM536 538h1v1h-1zM537 539h1v1h-1zM538 540h1v2h-1zM539 542h1v2h-1zM540 544h1v1h-1zM541 545h1v2h-1zM542 547h1v2h-1zM543 549h1v1h-1zM544 549h1v1h-1zM545 550h1v1h-1zM546 550h1v1h-1zM547 550h1v1h-1zM548 549h1v1h-1zM549 549h1v1h-1zM550 548h1v1h-1zM551 547h1v1h-1zM552 546h1v1h-1zM553 546h1v1h-1zM554 545h1v1h-1zM555 545h1v1h-1zM556 544h1v1h-1zM557 544h1v1h-1zM558 544h1v1h-1zM559 544h1v1h-1zM560 544h1v1h-1zM561 544h1v1h-1zM562 544h1v1h-1zM563 544h1v1h-1zM564 543h1v1h-1zM565 543h1v1h-1zM566 543h1v1h-1zM567 542h1v1h-1zM568 540h1v2h-1zM569 539h1v1h-1zM570 538h1v1h-1zM571 536h1v2h-1zM572 535h1v1h-1zM573 534h1v1h-1zM574 533h1v1h-1zM575 532h1v1h-1zM576 531h1v1h-1zM577 530h1v1h-1zM578 528h1v2h-1zM579 527h1v1h-1zM580 526h1v1h-1zM581 525h1v1h-1zM582 524h1v1h-1zM583 523h1v1h-1zM584 523h1v1h-1zM585 522h1v1h-1zM586 522h1v1h-1zM587 521h1v1h-1zM588 521h1v1h-1zM589 520h1v1h-1zM590 520h1v1h-1zM591 519h1v1h-1zM592 519h1v1h-1zM593 518h1v1h-1zM594 518h1v1h-1zM595 517h1v1h-1zM596 516h1v1h-1zM597 515h1v1h-1zM598 515h1v1h-1zM599 514h1v1h-1zM600 513h1v1h-1zM601 512h1v1h-1zM602 512h1v1h-1zM603 511h1v1h-1zM604 510h1v1h-1zM605 510h1v1h-1zM606 509h1v1h-1zM607 509h1v1h-1zM608 509h1v1h-1zM609 510h1v1h-1zM610 510h1v1h-1zM611 510h1v1h-1zM612 511h1v1h-1zM613 511h1v1h-1zM614 512h1v1h-1zM615 512h1v1h-1zM616 512h1v1h-1zM617 512h1v1h-1zM618 512h1v1h-1zM619 512h1v1h-1zM620 512h1v1h-1zM621 512h1v1h-1zM622 513h1v1h-1zM623 513h1v1h-1zM624 513h1v1h-1zM625 513h1v1h-1zM626 513h1v1h-1zM627 513h1v1h-1zM628 513h1v1h-1zM629 514h1v1h-1zM630 515h1v2h-1zM631 517h1v1h-1zM632 518h1v2h-1zM633 520h1v1h-1zM634 521h1v2h-1zM635 523h1v1h-1zM636 524h1v1h-1zM637 525h1v1h-1zM638 526h1v1h-1zM639 526h1v1h-1zM640 526h1v1h-1zM641 526h1v1h-1zM642 526h1v1h-1zM643 526h1v1h-1zM644 526h1v1h-1zM645 527h1v1h-1zM646 527h1v1h-1zM647 528h1v1h-1zM648 528h1v1h-1zM649 528h1v1h-1zM650 528h1v1h-1zM651 529h1v1h-1zM652 529h1v1h-1zM653 529h1v1h-1zM654 529h1v1h-1zM655 530h1v1h-1zM656 530h1v1h-1zM657 531h1v1h-1zM658 531h1v1h-1zM659 532h1v1h-1zM660 533h1v1h-1zM661 534h1v1h-1zM662 535h1v1h-1zM663 536h1v2h-1zM664 538h1v1h-1zM665 539h1v1h-1zM666 540h1v2h-1zM667 542h1v1h-1zM668 543h1v1h-1zM669 544h1v1h-1zM670 545h1v1h-1zM671 546h1v1h-1zM672 545h1v1h-1zM673 545h1v1h-1zM674 544h1v1h-1zM675 544h1v1h-1zM676 543h1v1h-1zM677 543h1v1h-1zM678 543h1v1h-1zM679 543h1v1h-1zM680 543h1v1h-1zM681 542h1v1h-1zM682 542h1v1h-1zM683 542h1v1h-1zM684 542h1v1h-1zM685 542h1v1h-1zM686 542h1v1h-1zM687 542h1v1h-1zM688 542h1v1h-1zM689 542h1v1h-1zM690 542h1v1h-1zM691 542h1v1h-1zM692 542h1v1h-1zM693 542h1v1h-1zM694 542h1v1h-1zM695 543h1v1h-1zM696 543h1v1h-1zM697 543h1v1h-1zM698 543h1v1h-1zM699 544h1v1h-1zM700 544h1v1h-1zM701 545h1v1h-1zM702 546h1v1h-1zM703 546h1v1h-1zM704 547h1v1h-1zM705 548h1v1h-1zM706 549h1v2h-1zM707 551h1v1h-1zM708 552h1v1h-1zM709 552h1v1h-1zM710 553h1v1h-1zM711 552h1v1h-1zM712 552h1v1h-1zM713 551h1v1h-1zM714 551h1v1h-1zM715 550h1v1h-1zM716 550h1v1h-1zM717 549h1v1h-1zM718 549h1v1h-1zM719 549h1v1h-1zM720 548h1v1h-1zM721 548h1v1h-1zM722 547h1v1h-1zM723 547h1v1h-1zM724 547h1v1h-1zM725 547h1v1h-1zM726 546h1v1h-1zM727 546h1v1h-1zM728 546h1v1h-1zM729 546h1v1h-1zM730 546h1v1h-1zM731 545h1v1h-1zM732 545h1v1h-1zM733 545h1v1h-1zM734 544h1v1h-1zM735 543h1v1h-1zM736 543h1v1h-1zM737 542h1v1h-1zM738 541h1v1h-1zM739 541h1v1h-1zM740 540h1v1h-1zM741 540h1v1h-1zM742 539h1v1h-1zM743 539h1v1h-1zM744 539h1v1h-1zM745 539h1v1h-1zM746 539h1v1h-1zM747 539h1v1h-1zM748 539h1v1h-1zM749 540h1v1h-1zM750 541h1v1h-1zM751 541h1v1h-1zM752 542h1v1h-1zM753 543h1v1h-1zM754 544h1v1h-1zM755 545h1v2h-1zM756 547h1v1h-1zM757 548h1v1h-1zM758 549h1v1h-1zM759 550h1v1h-1zM760 551h1v1h-1zM761 552h1v1h-1zM762 553h1v1h-1zM763 554h1v1h-1zM764 553h1v1h-1zM765 553h1v1h-1zM766 552h1v1h-1zM767 552h1v1h-1zM768 551h1v1h-1zM769 550h1v1h-1zM770 549h1v1h-1zM771 549h1v1h-1zM772 549h1v1h-1zM773 549h1v1h-1zM774 549h1v1h-1zM775 549h1v1h-1zM776 550h1v1h-1zM777 550h1v1h-1zM778 551h1v1h-1zM779 551h1v1h-1zM780 552h1v1h-1zM781 553h1v1h-1zM782 554h1v1h-1zM783 555h1v1h-1zM784 555h1v1h-1zM785 554h1v1h-1zM786 554h1v1h-1zM787 553h1v1h-1zM788 553h1v1h-1zM789 553h1v1h-1zM790 552h1v1h-1zM791 552h1v1h-1zM792 551h1v1h-1zM793 551h1v1h-1zM794 551h1v1h-1zM795 552h1v1h-1zM796 552h1v1h-1zM797 552h1v1h-1zM798 553h1v1h-1zM799 553h1v1h-1zM800 554h1v1h-1zM801 555h1v1h-1zM802 556h1v1h-1zM803 557h1v2h-1zM804 559h1v1h-1zM805 560h1v2h-1zM806 562h1v1h-1zM807 562h1v1h-1zM808 562h1v1h-1zM809 562h1v1h-1zM810 561h1v1h-1zM811 560h1v1h-1zM812 559h1v1h-1zM813 558h1v1h-1zM814 557h1v1h-1zM815 556h1v1h-1zM816 556h1v1h-1zM817 555h1v1h-1zM818 555h1v1h-1zM819 554h1v1h-1zM820 554h1v1h-1zM821 553h1v1h-1zM822 553h1v1h-1zM823 552h1v1h-1zM824 552h1v1h-1zM825 551h1v1h-1zM826 551h1v1h-1zM827 550h1v1h-1zM828 549h1v1h-1zM829 547h1v2h-1zM830 546h1v1h-1zM831 545h1v1h-1zM832 543h1v2h-1zM833 541h1v2h-1zM834 539h1v2h-1zM835 537h1v2h-1zM836 536h1v1h-1zM837 534h1v2h-1zM838 533h1v1h-1zM839 532h1v1h-1zM840 532h1v1h-1zM841 531h1v1h-1zM842 531h1v1h-1zM843 531h1v1h-1zM844 530h1v1h-1zM845 530h1v1h-1zM846 529h1v1h-1zM847 529h1v1h-1zM848 528h1v1h-1zM849 528h1v1h-1zM850 527h1v1h-1zM851 527h1v1h-1zM852 526h1v1h-1zM853 524h1v2h-1zM854 522h1v2h-1zM855 521h1v1h-1zM856 520h1v1h-1zM857 519h1v1h-1zM858 517h1v2h-1zM859 516h1v1h-1zM860 515h1v1h-1zM861 514h1v1h-1zM862 514h1v1h-1zM863 513h1v1h-1zM864 513h1v1h-1zM865 512h1v1h-1zM866 512h1v1h-1zM867 511h1v1h-1zM868 511h1v1h-1zM869 510h1v1h-1zM870 510h1v1h-1zM871 510h1v1h-1zM872 511h1v1h-1zM873 511h1v1h-1zM874 512h1v1h-1zM875 513h1v1h-1zM876 514h1v1h-1zM877 515h1v1h-1zM878 515h1v1h-1zM879 516h1v1h-1zM880 516h1v1h-1zM881 517h1v1h-1zM882 517h1v1h-1zM883 518h1v1h-1zM884 518h1v1h-1zM885 519h1v1h-1zM886 520h1v1h-1zM887 521h1v1h-1zM888 522h1v1h-1zM889 523h1v1h-1zM890 524h1v2h-1zM891 526h1v1h-1zM892 527h1v1h-1zM893 528h1v2h-1zM894 530h1v1h-1zM895 530h1v1h-1zM896 531h1v1h-1zM897 531h1v1h-1zM898 531h1v1h-1zM899 531h1v1h-1zM900 531h1v1h-1zM901 530h1v1h-1zM902 530h1v1h-1zM903 530h1v1h-1zM904 530h1v1h-1zM905 530h1v1h-1zM906 530h1v1h-1zM907 530h1v1h-1zM908 530h1v1h-1zM909 530h1v1h-1zM910 530h1v1h-1zM911 530h1v1h-1zM912 530h1v1h-1zM913 530h1v1h-1zM914 530h1v1h-1zM915 530h1v1h-1zM916 530h1v1h-1zM917 530h1v1h-1zM918 529h1v1h-1zM919 528h1v1h-1zM920 528h1v1h-1zM921 527h1v1h-1zM922 526h1v1h-1zM923 525h1v1h-1zM924 524h1v1h-1zM925 523h1v1h-1zM926 522h1v1h-1zM927 521h1v1h-1zM928 520h1v1h-1zM929 519h1v1h-1zM930 518h1v1h-1zM931 517h1v1h-1zM932 516h1v1h-1zM933 516h1v1h-1zM934 515h1v1h-1zM935 514h1v1h-1zM936 514h1v1h-1zM937 513h1v1h-1zM938 512h1v1h-1zM939 511h1v1h-1zM940 509h1v2h-1zM941 508h1v1h-1zM942 507h1v1h-1zM943 505h1v2h-1zM944 504h1v1h-1z"/>
<path fill="#000" shape-rendering="crispEdges" d="M78 589h1v1h-1zM79 587h1v2h-1zM80 586h1v1h-1zM81 585h1v1h-1zM82 583h1v2h-1zM83 582h1v1h-1zM84 580h1v2h-1zM85 579h1v1h-1zM86 578h1v1h-1zM87 576h1v2h-1zM88 575h1v1h-1zM89 573h1v2h-1zM90 571h1v2h-1zM91 569h1v2h-1zM92 567h1v2h-1zM93 564h1v3h-1zM94 562h1v2h-1zM95 560h1v2h-1zM96 557h1v3h-1zM97 555h1v2h-1zM98 552h1v3h-1zM99 549h1v3h-1zM100 545h1v4h-1zM101 542h1v3h-1zM102 539h1v3h-1zM103 537h1v2h-1zM104 535h1v2h-1zM105 533h1v2h-1zM106 532h1v1h-1zM107 532h1v1h-1zM108 531h1v1h-1zM109 531h1v1h-1zM110 531h1v1h-1zM111 530h1v1h-1zM112 530h1v1h-1zM113 530h1v1h-1zM114 530h1v1h-1zM115 530h1v1h-1zM116 531h1v1h-1zM117 531h1v1h-1zM118 531h1v1h-1zM119 532h1v1h-1zM120 532h1v1h-1zM121 533h1v1h-1zM122 534h1v1h-1zM123 535h1v1h-1zM124 535h1v1h-1zM125 536h1v1h-1zM126 537h1v1h-1zM127 538h1v1h-1zM128 539h1v1h-1zM129 539h1v1h-1zM130 540h1v1h-1zM131 540h1v1h-1zM132 541h1v1h-1zM133 541h1v1h-1zM134 541h1v1h-1zM135 542h1v1h-1zM136 542h1v1h-1zM137 543h1v1h-1zM138 543h1v1h-1zM139 544h1v1h-1zM140 544h1v1h-1zM141 545h1v1h-1zM142 545h1v1h-1zM143 546h1v1h-1zM144 546h1v1h-1zM145 547h1v1h-1zM146 547h1v1h-1zM147 548h1v1h-1zM148 548h1v1h-1zM149 549h1v1h-1zM150 549h1v1h-1zM151 549h1v1h-1zM152 550h1v1h-1zM153 550h1v1h-1zM154 550h1v1h-1zM155 549h1v1h-1zM156 549h1v1h-1zM157 548h1v1h-1zM158 548h1v1h-1zM159 547h1v1h-1zM160 546h1v1h-1zM161 546h1v1h-1zM162 546h1v1h-1zM163 546h1v1h-1zM164 546h1v1h-1zM165 546h1v1h-1zM166 546h1v1h-1zM167 546h1v1h-1zM168 547h1v1h-1zM169 547h1v1h-1zM170 547h1v1h-1zM171 548h1v1h-1zM172 548h1v1h-1zM173 549h1v1h-1zM174 550h1v1h-1zM175 551h1v1h-1zM176 552h1v1h-1zM177 552h1v1h-1zM178 553h1v1h-1zM179 554h1v2h-1zM180 556h1v1h-1zM181 557h1v2h-1zM182 559h1v1h-1zM183 560h1v1h-1zM184 561h1v1h-1zM185 561h1v1h-1zM186 562h1v1h-1zM187 562h1v1h-1zM188 561h1v1h-1zM189 561h1v1h-1zM190 560h1v1h-1zM191 560h1v1h-1zM192 559h1v1h-1zM193 559h1v1h-1zM194 558h1v1h-1zM195 558h1v1h-1zM196 557h1v1h-1zM197 557h1v1h-1zM198 556h1v1h-1zM199 556h1v1h-1zM200 555h1v1h-1zM201 555h1v1h-1zM202 554h1v1h-1zM203 554h1v1h-1zM204 553h1v1h-1zM205 552h1v1h-1zM206 551h1v1h-1zM207 550h1v1h-1zM208 549h1v1h-1zM209 548h1v1h-1zM210 547h1v1h-1zM211 546h1v1h-1zM212 545h1v1h-1zM213 543h1v2h-1zM214 542h1v1h-1zM215 540h1v2h-1zM216 539h1v1h-1zM217 537h1v2h-1zM218 536h1v1h-1zM219 534h1v2h-1zM220 533h1v1h-1zM221 532h1v1h-1zM222 532h1v1h-1zM223 531h1v1h-1zM224 530h1v1h-1zM225 530h1v1h-1zM226 529h1v1h-1zM227 529h1v1h-1zM228 528h1v1h-1zM229 528h1v1h-1zM230 527h1v1h-1zM231 527h1v1h-1zM232 526h1v1h-1zM233 526h1v1h-1zM234 525h1v1h-1zM235 525h1v1h-1zM236 524h1v1h-1zM237 524h1v1h-1zM238 523h1v1h-1zM239 521h1v2h-1zM240 520h1v1h-1zM241 519h1v1h-1zM242 517h1v2h-1zM243 516h1v1h-1zM244 516h1v1h-1zM245 515h1v1h-1zM246 515h1v1h-1zM247 515h1v1h-1zM248 514h1v1h-1zM249 514h1v1h-1zM250 513h1v1h-1zM251 513h1v1h-1zM252 512h1v1h-1zM253 512h1v1h-1zM254 512h1v1h-1zM255 512h1v1h-1zM256 512h1v1h-1zM257 512h1v1h-1zM258 513h1v1h-1zM259 513h1v1h-1zM260 514h1v1h-1zM261 514h1v1h-1zM262 515h1v1h-1zM263 515h1v1h-1zM264 516h1v1h-1zM265 516h1v1h-1zM266 516h1v1h-1zM267 516h1v1h-1zM268 517h1v1h-1zM269 517h1v1h-1zM270 517h1v1h-1zM271 518h1v1h-1zM272 518h1v1h-1zM273 519h1v1h-1zM274 519h1v1h-1zM275 520h1v1h-1zM276 521h1v1h-1zM277 521h1v1h-1zM278 522h1v1h-1zM279 522h1v1h-1zM280 523h1v1h-1zM281 523h1v1h-1zM282 522h1v1h-1zM283 522h1v1h-1zM284 521h1v1h-1zM285 521h1v1h-1zM286 521h1v1h-1zM287 520h1v1h-1zM288 520h1v1h-1zM289 520h1v1h-1zM290 520h1v1h-1zM291 519h1v1h-1zM292 519h1v1h-1zM293 519h1v1h-1zM294 519h1v1h-1zM295 518h1v1h-1zM296 518h1v1h-1zM297 518h1v1h-1zM298 518h1v1h-1zM299 519h1v1h-1zM300 519h1v1h-1zM301 520h1v1h-1zM302 521h1v1h-1zM303 521h1v1h-1zM304 522h1v1h-1zM305 523h1v1h-1zM306 524h1v1h-1zM307 525h1v1h-1zM308 526h1v1h-1zM309 527h1v1h-1zM310 527h1v1h-1zM311 528h1v1h-1zM312 528h1v1h-1zM313 528h1v1h-1zM314 528h1v1h-1zM315 528h1v1h-1zM316 528h1v1h-1zM317 527h1v1h-1zM318 527h1v1h-1zM319 526h1v1h-1zM320 526h1v1h-1zM321 525h1v1h-1zM322 525h1v1h-1zM323 525h1v1h-1zM324 524h1v1h-1zM325 524h1v1h-1zM326 523h1v1h-1zM327 522h1v1h-1zM328 520h1v2h-1zM329 519h1v1h-1zM330 517h1v2h-1zM331 515h1v2h-1zM332 513h1v2h-1zM333 512h1v1h-1zM334 511h1v1h-1zM335 509h1v2h-1zM336 508h1v1h-1zM337 507h1v1h-1zM338 506h1v1h-1zM339 506h1v1h-1zM340 505h1v1h-1zM341 505h1v1h-1zM342 505h1v1h-1zM343 505h1v1h-1zM344 505h1v1h-1zM345 506h1v1h-1zM346 507h1v1h-1zM347 508h1v1h-1zM348 508h1v1h-1zM349 508h1v1h-1zM350 509h1v1h-1zM351 509h1v1h-1zM352 509h1v1h-1zM353 510h1v1h-1zM354 510h1v1h-1zM355 511h1v1h-1zM356 511h1v1h-1zM357 512h1v1h-1zM358 513h1v1h-1zM359 513h1v1h-1zM360 514h1v1h-1zM361 515h1v1h-1zM362 516h1v1h-1zM363 517h1v1h-1zM364 518h1v1h-1zM365 519h1v1h-1zM366 520h1v1h-1zM367 521h1v1h-1zM368 522h1v1h-1zM369 522h1v1h-1zM370 523h1v1h-1zM371 524h1v1h-1zM372 525h1v1h-1zM373 526h1v1h-1zM374 526h1v1h-1zM375 527h1v1h-1zM376 528h1v1h-1zM377 529h1v1h-1zM378 530h1v2h-1zM379 532h1v1h-1zM380 533h1v1h-1zM381 534h1v1h-1zM382 535h1v1h-1zM383 536h1v1h-1zM384 537h1v2h-1zM385 539h1v2h-1zM386 541h1v2h-1zM387 543h1v1h-1zM388 544h1v1h-1zM389 545h1v1h-1zM390 546h1v1h-1zM391 546h1v1h-1zM392 546h1v1h-1zM393 547h1v1h-1zM394 547h1v1h-1zM395 547h1v1h-1zM396 547h1v1h-1zM397 547h1v1h-1zM398 546h1v1h-1zM399 546h1v1h-1zM400 546h1v1h-1zM401 545h1v1h-1zM402 543h1v2h-1zM403 542h1v1h-1zM404 541h1v1h-1zM405 540h1v1h-1zM406 539h1v1h-1zM407 538h1v1h-1zM408 537h1v1h-1zM409 536h1v1h-1zM410 535h1v1h-1zM411 535h1v1h-1zM412 534h1v1h-1zM413 534h1v1h-1zM414 533h1v1h-1zM415 533h1v1h-1zM416 532h1v1h-1zM417 532h1v1h-1zM418 532h1v1h-1zM419 530h1v2h-1zM420 528h1v2h-1zM421 527h1v1h-1zM422 527h1v1h-1zM423 527h1v1h-1zM424 527h1v1h-1zM425 527h1v1h-1zM426 527h1v1h-1zM427 527h1v1h-1zM428 527h1v1h-1zM429 527h1v1h-1zM430 527h1v1h-1zM431 527h1v1h-1zM432 527h1v1h-1zM433 527h1v1h-1zM434 527h1v1h-1zM435 528h1v1h-1zM436 528h1v1h-1zM437 529h1v1h-1zM438 530h1v1h-1zM439 530h1v1h-1zM440 531h1v1h-1zM441 532h1v1h-1zM442 532h1v1h-1zM443 533h1v1h-1zM444 534h1v1h-1zM445 535h1v1h-1zM446 535h1v1h-1zM447 536h1v1h-1zM448 537h1v1h-1zM449 538h1v1h-1zM450 538h1v1h-1zM451 539h1v1h-1zM452 539h1v1h-1zM453 540h1v1h-1zM454 540h1v1h-1zM455 541h1v1h-1zM456 541h1v1h-1zM457 541h1v1h-1zM458 542h1v1h-1zM459 542h1v1h-1zM460 543h1v2h-1zM461 545h1v1h-1zM462 546h1v1h-1zM463 547h1v2h-1zM464 549h1v1h-1zM465 550h1v2h-1zM466 552h1v1h-1zM467 553h1v1h-1zM468 553h1v1h-1zM469 554h1v1h-1zM470 555h1v1h-1zM471 555h1v1h-1zM472 556h1v1h-1zM473 556h1v1h-1zM474 555h1v1h-1zM475 555h1v1h-1zM476 555h1v1h-1zM477 555h1v1h-1zM478 554h1v1h-1zM479 554h1v1h-1zM480 553h1v1h-1zM481 553h1v1h-1zM482 552h1v1h-1zM483 552h1v1h-1zM484 551h1v1h-1zM485 551h1v1h-1zM486 550h1v1h-1zM487 550h1v1h-1zM488 549h1v1h-1zM489 549h1v1h-1zM490 549h1v1h-1zM491 549h1v1h-1zM492 549h1v1h-1zM493 549h1v1h-1zM494 549h1v1h-1zM495 549h1v1h-1zM496 549h1v1h-1zM497 549h1v1h-1zM498 549h1v1h-1zM499 549h1v1h-1zM500 549h1v1h-1zM501 548h1v1h-1zM502 546h1v2h-1zM503 545h1v1h-1zM504 544h1v1h-1zM505 543h1v1h-1zM506 542h1v1h-1zM507 541h1v1h-1zM508 541h1v1h-1zM509 540h1v1h-1zM510 540h1v1h-1zM511 540h1v1h-1zM512 539h1v1h-1zM513 539h1v1h-1zM514 539h1v1h-1zM515 539h1v1h-1zM516 539h1v1h-1zM517 539h1v1h-1zM518 539h1v1h-1zM519 539h1v1h-1zM520 538h1v1h-1zM521 538h1v1h-1zM522 538h1v1h-1zM523 537h1v1h-1zM524 537h1v1h-1zM525 537h1v1h-1zM526 536h1v1h-1zM527 536h1v1h-1zM528 535h1v1h-1zM529 535h1v1h-1zM530 535h1v1h-1zM531 535h1v1h-1zM532 535h1v1h-1zM533 536h1v1h-1zM534 536h1v1h-1zM535 537h1v1h-1zM536 537h1v1h-1zM537 538h1v1h-1zM538 539h1v1h-1zM539 540h1v1h-1zM540 541h1v1h-1zM541 542h1v1h-1zM542 543h1v1h-1zM543 544h1v1h-1zM544 545h1v1h-1zM545 545h1v1h-1zM546 546h1v1h-1zM547 546h1v1h-1zM548 547h1v1h-1zM549 547h1v1h-1zM550 547h1v1h-1zM551 547h1v1h-1zM552 546h1v1h-1zM553 546h1v1h-1zM554 546h1v1h-1zM555 545h1v1h-1zM556 545h1v1h-1zM557 544h1v1h-1zM558 544h1v1h-1zM559 544h1v1h-1zM560 544h1v1h-1zM561 543h1v1h-1zM562 543h1v1h-1zM563 543h1v1h-1zM564 543h1v1h-1zM565 543h1v1h-1zM566 542h1v1h-1zM567 542h1v1h-1zM568 541h1v1h-1zM569 541h1v1h-1zM570 540h1v1h-1zM571 539h1v1h-1zM572 539h1v1h-1zM573 538h1v1h-1zM574 537h1v1h-1zM575 536h1v1h-1zM576 535h1v1h-1zM577 534h1v1h-1zM578 533h1v1h-1zM579 532h1v1h-1zM580 531h1v1h-1zM581 531h1v1h-1zM582 530h1v1h-1zM583 530h1v1h-1zM584 529h1v1h-1zM585 528h1v1h-1zM586 527h1v1h-1zM587 527h1v1h-1zM588 526h1v1h-1zM589 524h1v2h-1zM590 523h1v1h-1zM591 522h1v1h-1zM592 522h1v1h-1zM593 521h1v1h-1zM594 521h1v1h-1zM595 520h1v1h-1zM596 519h1v1h-1zM597 519h1v1h-1zM598 518h1v1h-1zM599 518h1v1h-1zM600 517h1v1h-1zM601 516h1v1h-1zM602 516h1v1h-1zM603 515h1v1h-1zM604 515h1v1h-1zM605 514h1v1h-1zM606 514h1v1h-1zM607 514h1v1h-1zM608 513h1v1h-1zM609 513h1v1h-1zM610 513h1v1h-1zM611 513h1v1h-1zM612 512h1v1h-1zM613 512h1v1h-1zM614 512h1v1h-1zM615 512h1v1h-1zM616 512h1v1h-1zM617 512h1v1h-1zM618 512h1v1h-1zM619 512h1v1h-1zM620 512h1v1h-1zM621 512h1v1h-1zM622 512h1v1h-1zM623 512h1v1h-1zM624 513h1v1h-1zM625 513h1v1h-1zM626 513h1v1h-1zM627 514h1v1h-1zM628 514h1v1h-1zM629 515h1v1h-1zM630 515h1v1h-1zM631 516h1v1h-1zM632 517h1v1h-1zM633 518h1v1h-1zM634 518h1v1h-1zM635 519h1v1h-1zM636 520h1v1h-1zM637 520h1v1h-1zM638 521h1v1h-1zM639 521h1v1h-1zM640 522h1v1h-1zM641 522h1v1h-1zM642 523h1v1h-1zM643 523h1v1h-1zM644 524h1v1h-1zM645 524h1v1h-1zM646 525h1v1h-1zM647 525h1v1h-1zM648 526h1v1h-1zM649 526h1v1h-1zM650 526h1v1h-1zM651 527h1v1h-1zM652 527h1v1h-1zM653 528h1v1h-1zM654 528h1v1h-1zM655 529h1v1h-1zM656 530h1v1h-1zM657 530h1v1h-1zM658 531h1v1h-1zM659 531h1v1h-1zM660 532h1v1h-1zM661 533h1v1h-1zM662 534h1v1h-1zM663 535h1v1h-1zM664 536h1v1h-1zM665 537h1v1h-1zM666 538h1v1h-1zM667 539h1v1h-1zM668 539h1v1h-1zM669 540h1v1h-1zM670 541h1v1h-1zM671 541h1v1h-1zM672 542h1v1h-1zM673 542h1v1h-1zM674 542h1v1h-1zM675 542h1v1h-1zM676 541h1v1h-1zM677 541h1v1h-1zM678 541h1v1h-1zM679 541h1v1h-1zM680 541h1v1h-1zM681 540h1v1h-1zM682 540h1v1h-1zM683 540h1v1h-1zM684 540h1v1h-1zM685 540h1v1h-1zM686 540h1v1h-1zM687 540h1v1h-1zM688 540h1v1h-1zM689 540h1v1h-1zM690 540h1v1h-1zM691 540h1v1h-1zM692 540h1v1h-1zM693 540h1v1h-1zM694 540h1v1h-1zM695 541h1v1h-1zM696 541h1v1h-1zM697 541h1v1h-1zM698 541h1v1h-1zM699 542h1v1h-1zM700 543h1v1h-1zM701 543h1v1h-1zM702 544h1v1h-1zM703 545h1v1h-1zM704 545h1v1h-1zM705 546h1v1h-1zM706 546h1v1h-1zM707 547h1v1h-1zM708 548h1v1h-1zM709 549h1v1h-1zM710 549h1v1h-1zM711 550h1v1h-1zM712 549h1v1h-1zM713 549h1v1h-1zM714 548h1v1h-1zM715 548h1v1h-1zM716 548h1v1h-1zM717 547h1v1h-1zM718 547h1v1h-1zM719 546h1v1h-1zM720 546h1v1h-1zM721 546h1v1h-1zM722 546h1v1h-1zM723 546h1v1h-1zM724 546h1v1h-1zM725 546h1v1h-1zM726 546h1v1h-1zM727 546h1v1h-1zM728 545h1v1h-1zM729 545h1v1h-1zM730 545h1v1h-1zM731 544h1v1h-1zM732 544h1v1h-1zM733 543h1v1h-1zM734 543h1v1h-1zM735 542h1v1h-1zM736 542h1v1h-1zM737 541h1v1h-1zM738 541h1v1h-1zM739 540h1v1h-1zM740 540h1v1h-1zM741 539h1v1h-1zM742 539h1v1h-1zM743 539h1v1h-1zM744 538h1v1h-1zM745 538h1v1h-1zM746 538h1v1h-1zM747 538h1v1h-1zM748 539h1v1h-1zM749 539h1v1h-1zM750 539h1v1h-1zM751 540h1v1h-1zM752 541h1v1h-1zM753 542h1v1h-1zM754 543h1v1h-1zM755 544h1v1h-1zM756 545h1v1h-1zM757 546h1v1h-1zM758 547h1v1h-1zM759 548h1v1h-1zM760 548h1v1h-1zM761 549h1v2h-1zM762 550h1v1h-1zM763 550h1v1h-1zM764 550h1v1h-1zM765 550h1v1h-1zM766 550h1v1h-1zM767 549h1v1h-1zM768 549h1v1h-1zM769 548h1v1h-1zM770 548h1v1h-1zM771 548h1v1h-1zM772 548h1v1h-1zM773 548h1v1h-1zM774 548h1v1h-1zM775 549h1v1h-1zM776 549h1v1h-1zM777 550h1v1h-1zM778 550h1v1h-1zM779 551h1v1h-1zM780 551h1v1h-1zM781 552h1v1h-1zM782 552h1v1h-1zM783 553h1v1h-1zM784 553h1v1h-1zM785 553h1v1h-1zM786 552h1v1h-1zM787 552h1v1h-1zM788 552h1v1h-1zM789 552h1v1h-1zM790 551h1v1h-1zM791 551h1v1h-1zM792 550h1v1h-1zM793 550h1v1h-1zM794 551h1v1h-1zM795 551h1v1h-1zM796 552h1v1h-1zM797 552h1v1h-1zM798 553h1v1h-1zM799 554h1v1h-1zM800 554h1v1h-1zM801 555h1v1h-1zM802 556h1v1h-1zM803 557h1v1h-1zM804 558h1v1h-1zM805 559h1v1h-1zM806 559h1v1h-1zM807 559h1v1h-1zM808 559h1v1h-1zM809 559h1v1h-1zM810 558h1v1h-1zM811 557h1v1h-1zM812 556h1v1h-1zM813 554h1v2h-1zM814 553h1v1h-1zM815 552h1v1h-1zM816 552h1v1h-1zM817 551h1v1h-1zM818 551h1v1h-1zM819 550h1v1h-1zM820 550h1v1h-1zM821 549h1v1h-1zM822 549h1v1h-1zM823 548h1v1h-1zM824 548h1v1h-1zM825 547h1v1h-1zM826 546h1v1h-1zM827 545h1v1h-1zM828 544h1v1h-1zM829 543h1v1h-1zM830 541h1v2h-1zM831 539h1v2h-1zM832 537h1v2h-1zM833 536h1v1h-1zM834 534h1v2h-1zM835 532h1v2h-1zM836 531h1v1h-1zM837 530h1v1h-1zM838 530h1v1h-1zM839 529h1v1h-1zM840 529h1v1h-1zM841 528h1v1h-1zM842 528h1v1h-1zM843 527h1v1h-1zM844 526h1v1h-1zM845 526h1v1h-1zM846 525h1v1h-1zM847 525h1v1h-1zM848 525h1v1h-1zM849 524h1v1h-1zM850 524h1v1h-1zM851 522h1v2h-1zM852 521h1v1h-1zM853 519h1v2h-1zM854 517h1v2h-1zM855 516h1v1h-1zM856 514h1v2h-1zM857 513h1v1h-1zM858 511h1v2h-1zM859 510h1v1h-1zM860 509h1v1h-1zM861 507h1v2h-1zM862 506h1v1h-1zM863 506h1v1h-1zM864 505h1v1h-1zM865 505h1v1h-1zM866 506h1v1h-1zM867 506h1v1h-1zM868 507h1v1h-1zM869 508h1v1h-1zM870 509h1v1h-1zM871 510h1v1h-1zM872 510h1v1h-1zM873 511h1v1h-1zM874 512h1v1h-1zM875 512h1v1h-1zM876 513h1v1h-1zM877 513h1v1h-1zM878 513h1v1h-1zM879 513h1v1h-1zM880 513h1v1h-1zM881 514h1v1h-1zM882 514h1v1h-1zM883 515h1v1h-1zM884 515h1v1h-1zM885 516h1v1h-1zM886 517h1v1h-1zM887 517h1v1h-1zM888 518h1v1h-1zM889 519h1v1h-1zM890 520h1v1h-1zM891 521h1v1h-1zM892 522h1v1h-1zM893 523h1v1h-1zM894 524h1v1h-1zM895 524h1v1h-1zM896 525h1v1h-1zM897 526h1v1h-1zM898 527h1v1h-1zM899 528h1v1h-1zM900 528h1v1h-1zM901 529h1v1h-1zM902 529h1v1h-1zM903 529h1v1h-1zM904 529h1v1h-1zM905 529h1v1h-1zM906 529h1v1h-1zM907 529h1v1h-1zM908 529h1v1h-1zM909 529h1v1h-1zM910 529h1v1h-1zM911 530h1v1h-1zM912 530h1v1h-1zM913 530h1v1h-1zM914 530h1v1h-1zM915 529h1v1h-1zM916 529h1v1h-1zM917 529h1v1h-1zM918 528h1v1h-1zM919 527h1v1h-1zM920 526h1v1h-1zM921 525h1v1h-1zM922 524h1v1h-1zM923 522h1v2h-1zM924 521h1v1h-1zM925 520h1v1h-1zM926 518h1v2h-1zM927 516h1v2h-1zM928 514h1v2h-1zM929 513h1v1h-1zM930 511h1v2h-1zM931 510h1v1h-1zM932 508h1v2h-1zM933 507h1v1h-1zM934 506h1v1h-1zM935 505h1v1h-1zM936 504h1v1h-1zM937 503h1v1h-1zM938 502h1v1h-1zM939 501h1v1h-1zM940 500h1v1h-1zM941 500h1v1h-1zM942 499h1v1h-1zM943 498h1v1h-1zM944 497h1v1h-1z"/>
<path fill="#000" shape-rendering="crispEdges" d="M78 141h1v1h-1zM79 141h1v1h-1zM80 142h1v1h-1zM81 142h1v1h-1zM82 143h1v1h-1zM83 144h1v2h-1zM84 146h1v3h-1zM85 149h1v2h-1zM86 146h1v3h-1zM87 144h1v3h-1zM88 140h1v4h-1zM89 134h1v7h-1zM90 124h1v10h-1zM91 116h1v8h-1zM92 108h1v8h-1zM93 98h1v10h-1zM94 91h1v7h-1zM95 87h1v4h-1zM96 82h1v5h-1zM97 75h1v7h-1zM98 67h1v8h-1zM99 62h1v5h-1zM100 61h1v1h-1zM101 61h1v4h-1zM102 65h1v6h-1zM103 71h1v11h-1zM104 82h1v10h-1zM105 92h1v6h-1zM106 98h1v3h-1zM107 101h1v2h-1zM108 103h1v2h-1zM109 103h1v1h-1zM110 102h1v1h-1zM111 100h1v2h-1zM112 98h1v2h-1zM113 96h1v2h-1zM114 95h1v1h-1zM115 93h1v2h-1zM116 92h1v3h-1zM117 95h1v6h-1zM118 101h1v5h-1zM119 106h1v6h-1zM120 112h1v6h-1zM121 118h1v10h-1zM122 128h1v9h-1zM123 137h1v4h-1zM124 141h1v4h-1zM125 145h1v4h-1zM126 148h1v3h-1zM127 144h1v4h-1zM128 140h1v4h-1zM129 136h1v4h-1zM130 134h1v2h-1zM131 132h1v2h-1zM132 131h1v1h-1zM133 131h1v1h-1zM134 132h1v1h-1zM135 132h1v3h-1zM136 135h1v4h-1zM137 139h1v5h-1zM138 144h1v4h-1zM139 148h1v4h-1zM140 152h1v4h-1zM141 156h1v3h-1zM142 159h1v2h-1zM143 161h1v2h-1zM144 163h1v3h-1zM145 166h1v3h-1zM146 169h1v2h-1zM147 171h1v1h-1zM148 171h1v2h-1zM149 169h1v2h-1zM150 167h1v2h-1zM151 165h1v2h-1zM152 163h1v2h-1zM153 161h1v2h-1zM154 159h1v2h-1zM155 157h1v2h-1zM156 155h1v2h-1zM157 154h1v1h-1zM158 153h1v1h-1zM159 154h1v2h-1zM160 156h1v2h-1zM161 158h1v2h-1zM162 160h1v2h-1zM163 162h1v3h-1zM164 165h1v4h-1zM165 169h1v3h-1zM166 172h1v3h-1zM167 175h1v4h-1zM168 179h1v4h-1zM169 183h1v6h-1zM170 189h1v5h-1zM171 194h1v4h-1zM172 198h1v4h-1zM173 202h1v5h-1zM174 207h1v5h-1zM175 212h1v5h-1zM176 217h1v6h-1zM177 223h1v7h-1zM178 230h1v10h-1zM179 240h1v10h-1zM180 250h1v4h-1zM181 252h1v1h-1zM182 247h1v6h-1zM183 238h1v9h-1zM184 232h1v6h-1zM185 227h1v5h-1zM186 223h1v4h-1zM187 215h1v8h-1zM188 208h1v7h-1zM189 207h1v1h-1zM190 206h1v1h-1zM191 207h1v2h-1zM192 209h1v2h-1zM193 211h1v3h-1zM194 214h1v4h-1zM195 218h1v4h-1zM196 222h1v2h-1zM197 224h1v1h-1zM198 225h1v2h-1zM199 227h1v1h-1zM200 225h1v2h-1zM201 221h1v4h-1zM202 217h1v4h-1zM203 213h1v4h-1zM204 210h1v3h-1zM205 206h1v4h-1zM206 203h1v3h-1zM207 199h1v4h-1zM208 195h1v4h-1zM209 191h1v4h-1zM210 189h1v2h-1zM211 187h1v2h-1zM212 185h1v2h-1zM213 183h1v2h-1zM214 181h1v2h-1zM215 179h1v2h-1zM216 178h1v1h-1zM217 178h1v1h-1zM218 179h1v1h-1zM219 179h1v2h-1zM220 181h1v3h-1zM221 184h1v3h-1zM222 187h1v4h-1zM223 191h1v3h-1zM224 194h1v1h-1zM225 195h1v2h-1zM226 197h1v1h-1zM227 196h1v1h-1zM228 195h1v1h-1zM229 195h1v1h-1zM230 193h1v2h-1zM231 189h1v4h-1zM232 186h1v3h-1zM233 182h1v4h-1zM234 178h1v4h-1zM235 174h1v4h-1zM236 169h1v5h-1zM237 165h1v4h-1zM238 160h1v5h-1zM239 154h1v6h-1zM240 148h1v6h-1zM241 140h1v8h-1zM242 134h1v6h-1zM243 129h1v5h-1zM244 126h1v3h-1zM245 124h1v2h-1zM246 123h1v1h-1zM247 124h1v1h-1zM248 124h1v2h-1zM249 126h1v2h-1zM250 128h1v3h-1zM251 131h1v4h-1zM252 135h1v6h-1zM253 141h1v5h-1zM254 146h1v5h-1zM255 151h1v3h-1zM256 154h1v2h-1zM257 156h1v2h-1zM258 158h1v2h-1zM259 157h1v2h-1zM260 155h1v2h-1zM261 152h1v3h-1zM262 150h1v2h-1zM263 147h1v3h-1zM264 145h1v2h-1zM265 144h1v1h-1zM266 142h1v2h-1zM267 141h1v1h-1zM268 142h1v1h-1zM269 143h1v1h-1zM270 143h1v1h-1zM271 144h1v1h-1zM272 145h1v1h-1zM273 145h1v1h-1zM274 146h1v1h-1zM275 145h1v1h-1zM276 145h1v1h-1zM277 144h1v1h-1zM278 144h1v1h-1zM279 142h1v2h-1zM280 140h1v2h-1zM281 137h1v3h-1zM282 134h1v3h-1zM283 131h1v3h-1zM284 128h1v3h-1zM285 126h1v2h-1zM286 124h1v2h-1zM287 122h1v2h-1zM288 121h1v1h-1zM289 120h1v1h-1zM290 119h1v1h-1zM291 118h1v1h-1zM292 117h1v1h-1zM293 115h1v2h-1zM294 114h1v2h-1zM295 116h1v2h-1zM296 118h1v3h-1zM297 121h1v3h-1zM298 124h1v4h-1zM299 128h1v3h-1zM300 131h1v4h-1zM301 135h1v2h-1zM302 137h1v2h-1zM303 139h1v2h-1zM304 141h1v1h-1zM305 142h1v1h-1zM306 142h1v1h-1zM307 141h1v2h-1zM308 139h1v2h-1zM309 137h1v2h-1zM310 135h1v2h-1zM311 133h1v2h-1zM312 131h1v2h-1zM313 130h1v1h-1zM314 130h1v1h-1zM315 129h1v1h-1zM316 128h1v1h-1zM317 128h1v1h-1zM318 127h1v1h-1zM319 126h1v1h-1zM320 126h1v1h-1zM321 125h1v1h-1zM322 124h1v1h-1zM323 122h1v2h-1zM324 117h1v5h-1zM325 108h1v9h-1zM326 100h1v8h-1zM327 92h1v8h-1zM328 84h1v8h-1zM329 75h1v9h-1zM330 65h1v10h-1zM331 56h1v9h-1zM332 48h1v8h-1zM333 42h1v6h-1zM334 38h1v4h-1zM335 35h1v3h-1zM336 33h1v2h-1zM337 32h1v4h-1zM338 36h1v7h-1zM339 43h1v7h-1zM340 50h1v8h-1zM341 58h1v8h-1zM342 66h1v10h-1zM343 76h1v7h-1zM344 83h1v4h-1zM345 87h1v3h-1zM346 89h1v1h-1zM347 90h1v1h-1zM348 87h1v4h-1zM349 81h1v6h-1zM350 77h1v4h-1zM351 73h1v4h-1zM352 71h1v2h-1zM353 68h1v3h-1zM354 66h1v2h-1zM355 67h1v1h-1zM356 68h1v3h-1zM357 71h1v4h-1zM358 75h1v4h-1zM359 79h1v4h-1zM360 83h1v4h-1zM361 87h1v4h-1zM362 91h1v2h-1zM363 92h1v1h-1zM364 93h1v1h-1zM365 93h1v1h-1zM366 93h1v1h-1zM367 92h1v1h-1zM368 92h1v1h-1zM369 91h1v1h-1zM370 90h1v1h-1zM371 90h1v1h-1zM372 89h1v1h-1zM373 90h1v1h-1zM374 91h1v2h-1zM375 93h1v8h-1zM376 101h1v12h-1zM377 113h1v8h-1zM378 121h1v12h-1zM379 133h1v11h-1zM380 144h1v6h-1zM381 150h1v4h-1zM382 154h1v1h-1zM383 153h1v3h-1zM384 149h1v4h-1zM385 144h1v5h-1zM386 138h1v6h-1zM387 132h1v6h-1zM388 127h1v5h-1zM389 124h1v3h-1zM390 122h1v2h-1zM391 123h1v1h-1zM392 124h1v2h-1zM393 126h1v2h-1zM394 128h1v2h-1zM395 130h1v2h-1zM396 132h1v2h-1zM397 134h1v2h-1zM398 135h1v2h-1zM399 132h1v3h-1zM400 127h1v5h-1zM401 121h1v6h-1zM402 115h1v6h-1zM403 111h1v4h-1zM404 107h1v4h-1zM405 102h1v5h-1zM406 96h1v6h-1zM407 93h1v3h-1zM408 91h1v2h-1zM409 89h1v2h-1zM410 90h1v2h-1zM411 92h1v3h-1zM412 95h1v2h-1zM413 97h1v3h-1zM414 100h1v2h-1zM415 102h1v1h-1zM416 103h1v2h-1zM417 105h1v1h-1zM418 104h1v1h-1zM419 102h1v2h-1zM420 101h1v1h-1zM421 100h1v1h-1zM422 99h1v1h-1zM423 99h1v1h-1zM424 98h1v1h-1zM425 97h1v1h-1zM426 96h1v1h-1zM427 95h1v1h-1zM428 96h1v1h-1zM429 96h1v1h-1zM430 97h1v1h-1zM431 98h1v2h-1zM432 100h1v3h-1zM433 103h1v2h-1zM434 105h1v2h-1zM435 107h1v4h-1zM436 111h1v4h-1zM437 115h1v5h-1zM438 120h1v5h-1zM439 125h1v5h-1zM440 130h1v6h-1zM441 136h1v3h-1zM442 139h1v2h-1zM443 141h1v2h-1zM444 143h1v1h-1zM445 144h1v1h-1zM446 143h1v2h-1zM447 139h1v4h-1zM448 137h1v2h-1zM449 135h1v2h-1zM450 133h1v2h-1zM451 131h1v2h-1zM452 130h1v1h-1zM453 129h1v1h-1zM454 128h1v1h-1zM455 129h1v2h-1zM456 131h1v3h-1zM457 134h1v6h-1zM458 140h1v7h-1zM459 147h1v8h-1zM460 155h1v6h-1zM461 161h1v4h-1zM462 165h1v4h-1zM463 169h1v8h-1zM464 177h1v8h-1zM465 185h1v6h-1zM466 191h1v5h-1zM467 196h1v4h-1zM468 200h1v2h-1zM469 200h1v1h-1zM470 197h1v3h-1zM471 191h1v6h-1zM472 185h1v6h-1zM473 179h1v6h-1zM474 174h1v5h-1zM475 171h1v3h-1zM476 169h1v2h-1zM477 169h1v1h-1zM478 168h1v1h-1zM479 168h1v1h-1zM480 169h1v2h-1zM481 171h1v2h-1zM482 173h1v2h-1zM483 175h1v4h-1zM484 179h1v3h-1zM485 182h1v2h-1zM486 184h1v2h-1zM487 186h1v1h-1zM488 187h1v1h-1zM489 188h1v2h-1zM490 190h1v1h-1zM491 190h1v1h-1zM492 189h1v1h-1zM493 189h1v1h-1zM494 189h1v1h-1zM495 188h1v1h-1zM496 188h1v1h-1zM497 189h1v1h-1zM498 190h1v1h-1zM499 191h1v8h-1zM500 199h1v16h-1zM501 208h1v16h-1zM502 179h1v29h-1zM503 161h1v18h-1zM504 151h1v10h-1zM505 146h1v5h-1zM506 146h1v1h-1zM507 146h1v8h-1zM508 154h1v9h-1zM509 163h1v4h-1zM510 167h1v4h-1zM511 171h1v5h-1zM512 176h1v6h-1zM513 182h1v3h-1zM514 185h1v2h-1zM515 187h1v2h-1zM516 189h1v2h-1zM517 191h1v2h-1zM518 191h1v1h-1zM519 190h1v2h-1zM520 186h1v4h-1zM521 182h1v4h-1zM522 179h1v3h-1zM523 175h1v4h-1zM524 173h1v2h-1zM525 171h1v2h-1zM526 169h1v2h-1zM527 170h1v2h-1zM528 172h1v2h-1zM529 174h1v4h-1zM530 178h1v4h-1zM531 182h1v4h-1zM532 186h1v4h-1zM533 190h1v4h-1zM534 194h1v4h-1zM535 198h1v3h-1zM536 201h1v3h-1zM537 204h1v4h-1zM538 208h1v3h-1zM539 211h1v4h-1zM540 215h1v4h-1zM541 219h1v3h-1zM542 222h1v4h-1zM543 226h1v4h-1zM544 230h1v3h-1zM545 231h1v1h-1zM546 230h1v2h-1zM547 226h1v4h-1zM548 222h1v4h-1zM549 218h1v4h-1zM550 214h1v4h-1zM551 210h1v4h-1zM552 208h1v2h-1zM553 208h1v1h-1zM554 207h1v1h-1zM555 207h1v1h-1zM556 207h1v2h-1zM557 209h1v4h-1zM558 213h1v3h-1zM559 216h1v3h-1zM560 219h1v3h-1zM561 222h1v2h-1zM562 222h1v1h-1zM563 222h1v1h-1zM564 220h1v2h-1zM565 217h1v3h-1zM566 214h1v3h-1zM567 210h1v4h-1zM568 204h1v6h-1zM569 199h1v5h-1zM570 195h1v4h-1zM571 191h1v4h-1zM572 187h1v4h-1zM573 184h1v3h-1zM574 181h1v3h-1zM575 178h1v3h-1zM576 174h1v4h-1zM577 171h1v3h-1zM578 170h1v1h-1zM579 169h1v1h-1zM580 168h1v1h-1zM581 169h1v2h-1zM582 171h1v3h-1zM583 174h1v2h-1zM584 176h1v2h-1zM585 178h1v2h-1zM586 180h1v1h-1zM587 180h1v1h-1zM588 181h1v1h-1zM589 180h1v2h-1zM590 176h1v4h-1zM591 172h1v4h-1zM592 170h1v2h-1zM593 167h1v3h-1zM594 164h1v3h-1zM595 160h1v4h-1zM596 155h1v5h-1zM597 149h1v6h-1zM598 145h1v4h-1zM599 141h1v4h-1zM600 139h1v2h-1zM601 137h1v2h-1zM602 135h1v2h-1zM603 133h1v2h-1zM604 133h1v1h-1zM605 132h1v1h-1zM606 132h1v1h-1zM607 133h1v2h-1zM608 135h1v1h-1zM609 136h1v2h-1zM610 138h1v2h-1zM611 140h1v1h-1zM612 141h1v1h-1zM613 142h1v2h-1zM614 143h1v2h-1zM615 140h1v3h-1zM616 137h1v3h-1zM617 135h1v2h-1zM618 133h1v2h-1zM619 131h1v2h-1zM620 130h1v1h-1zM621 128h1v2h-1zM622 127h1v1h-1zM623 128h1v1h-1zM624 129h1v2h-1zM625 131h1v2h-1zM626 133h1v3h-1zM627 136h1v3h-1zM628 139h1v3h-1zM629 142h1v4h-1zM630 146h1v4h-1zM631 150h1v2h-1zM632 152h1v2h-1zM633 154h1v2h-1zM634 154h1v1h-1zM635 152h1v2h-1zM636 150h1v2h-1zM637 148h1v2h-1zM638 146h1v2h-1zM639 145h1v1h-1zM640 144h1v1h-1zM641 143h1v1h-1zM642 144h1v1h-1zM643 145h1v1h-1zM644 145h1v1h-1zM645 146h1v1h-1zM646 147h1v1h-1zM647 148h1v2h-1zM648 150h1v1h-1zM649 151h1v1h-1zM650 151h1v1h-1zM651 152h1v1h-1zM652 153h1v1h-1zM653 153h1v1h-1zM654 154h1v1h-1zM655 155h1v2h-1zM656 157h1v2h-1zM657 159h1v3h-1zM658 162h1v3h-1zM659 165h1v3h-1zM660 168h1v3h-1zM661 171h1v3h-1zM662 174h1v4h-1zM663 178h1v4h-1zM664 182h1v4h-1zM665 186h1v2h-1zM666 188h1v2h-1zM667 190h1v1h-1zM668 189h1v1h-1zM669 189h1v1h-1zM670 187h1v2h-1zM671 183h1v4h-1zM672 179h1v4h-1zM673 176h1v3h-1zM674 174h1v2h-1zM675 173h1v1h-1zM676 172h1v1h-1zM677 171h1v1h-1zM678 172h1v1h-1zM679 173h1v1h-1zM680 174h1v1h-1zM681 175h1v2h-1zM682 177h1v2h-1zM683 179h1v2h-1zM684 181h1v2h-1zM685 183h1v2h-1zM686 185h1v1h-1zM687 185h1v1h-1zM688 185h1v1h-1zM689 185h1v1h-1zM690 185h1v1h-1zM691 184h1v1h-1zM692 184h1v1h-1zM693 184h1v1h-1zM694 185h1v1h-1zM695 185h1v1h-1zM696 186h1v1h-1zM697 187h1v1h-1zM698 188h1v5h-1zM699 193h1v8h-1zM700 201h1v6h-1zM701 207h1v7h-1zM702 214h1v7h-1zM703 221h1v4h-1zM704 225h1v4h-1zM705 229h1v2h-1zM706 231h1v2h-1zM707 233h1v2h-1zM708 232h1v2h-1zM709 229h1v3h-1zM710 225h1v4h-1zM711 221h1v4h-1zM712 219h1v2h-1zM713 216h1v3h-1zM714 214h1v2h-1zM715 213h1v1h-1zM716 211h1v2h-1zM717 210h1v1h-1zM718 211h1v1h-1zM719 211h1v2h-1zM720 213h1v2h-1zM721 215h1v2h-1zM722 217h1v3h-1zM723 220h1v2h-1zM724 222h1v2h-1zM725 224h1v1h-1zM726 225h1v1h-1zM727 226h1v1h-1zM728 227h1v1h-1zM729 225h1v2h-1zM730 223h1v2h-1zM731 221h1v2h-1zM732 219h1v2h-1zM733 217h1v2h-1zM734 216h1v1h-1zM735 214h1v2h-1zM736 213h1v1h-1zM737 212h1v1h-1zM738 212h1v1h-1zM739 211h1v1h-1zM740 211h1v1h-1zM741 212h1v1h-1zM742 212h1v1h-1zM743 213h1v2h-1zM744 215h1v2h-1zM745 217h1v2h-1zM746 219h1v2h-1zM747 221h1v3h-1zM748 224h1v2h-1zM749 226h1v2h-1zM750 228h1v4h-1zM751 232h1v6h-1zM752 238h1v5h-1zM753 243h1v4h-1zM754 247h1v5h-1zM755 252h1v5h-1zM756 257h1v5h-1zM757 262h1v5h-1zM758 267h1v3h-1zM759 270h1v2h-1zM760 272h1v2h-1zM761 273h1v2h-1zM762 271h1v2h-1zM763 265h1v6h-1zM764 259h1v6h-1zM765 257h1v2h-1zM766 255h1v2h-1zM767 252h1v3h-1zM768 250h1v2h-1zM769 248h1v2h-1zM770 249h1v2h-1zM771 251h1v4h-1zM772 255h1v7h-1zM773 262h1v4h-1zM774 266h1v4h-1zM775 270h1v4h-1zM776 274h1v4h-1zM777 278h1v2h-1zM778 280h1v3h-1zM779 283h1v3h-1zM780 286h1v4h-1zM781 290h1v2h-1zM782 291h1v1h-1zM783 292h1v1h-1zM784 291h1v2h-1zM785 289h1v2h-1zM786 287h1v2h-1zM787 285h1v2h-1zM788 283h1v2h-1zM789 281h1v2h-1zM790 280h1v1h-1zM791 278h1v2h-1zM792 277h1v4h-1zM793 281h1v6h-1zM794 287h1v6h-1zM795 293h1v5h-1zM796 298h1v5h-1zM797 303h1v5h-1zM798 308h1v6h-1zM799 314h1v5h-1zM800 319h1v6h-1zM801 325h1v5h-1zM802 330h1v5h-1zM803 335h1v4h-1zM804 339h1v2h-1zM805 341h1v3h-1zM806 344h1v2h-1zM807 344h1v1h-1zM808 338h1v6h-1zM809 328h1v10h-1zM810 322h1v6h-1zM811 317h1v5h-1zM812 314h1v3h-1zM813 311h1v3h-1zM814 309h1v2h-1zM815 310h1v1h-1zM816 311h1v1h-1zM817 312h1v1h-1zM818 313h1v2h-1zM819 315h1v2h-1zM820 317h1v3h-1zM821 320h1v2h-1zM822 322h1v3h-1zM823 325h1v2h-1zM824 325h1v1h-1zM825 325h1v1h-1zM826 323h1v2h-1zM827 319h1v4h-1zM828 314h1v5h-1zM829 308h1v6h-1zM830 304h1v4h-1zM831 300h1v4h-1zM832 296h1v4h-1zM833 292h1v4h-1zM834 288h1v4h-1zM835 284h1v4h-1zM836 280h1v4h-1zM837 277h1v3h-1zM838 275h1v2h-1zM839 276h1v1h-1zM840 276h1v1h-1zM841 277h1v1h-1zM842 278h1v2h-1zM843 280h1v2h-1zM844 282h1v2h-1zM845 284h1v4h-1zM846 288h1v3h-1zM847 291h1v1h-1zM848 289h1v3h-1zM849 285h1v4h-1zM850 279h1v6h-1zM851 273h1v6h-1zM852 267h1v6h-1zM853 263h1v4h-1zM854 258h1v5h-1zM855 253h1v5h-1zM856 247h1v6h-1zM857 242h1v5h-1zM858 236h1v6h-1zM859 232h1v4h-1zM860 228h1v4h-1zM861 225h1v3h-1zM862 224h1v1h-1zM863 224h1v1h-1zM864 223h1v2h-1zM865 225h1v2h-1zM866 227h1v4h-1zM867 231h1v5h-1zM868 236h1v5h-1zM869 241h1v4h-1zM870 245h1v3h-1zM871 248h1v2h-1zM872 250h1v2h-1zM873 252h1v1h-1zM874 250h1v2h-1zM875 248h1v2h-1zM876 247h1v1h-1zM877 245h1v2h-1zM878 243h1v2h-1zM879 241h1v2h-1zM880 240h1v1h-1zM881 240h1v1h-1zM882 241h1v1h-1zM883 242h1v1h-1zM884 243h1v3h-1zM885 246h1v4h-1zM886 250h1v5h-1zM887 255h1v6h-1zM888 261h1v5h-1zM889 266h1v2h-1zM890 268h1v2h-1zM891 270h1v2h-1zM892 271h1v1h-1zM893 270h1v2h-1zM894 267h1v3h-1zM895 265h1v2h-1zM896 263h1v2h-1zM897 261h1v2h-1zM898 259h1v2h-1zM899 257h1v2h-1zM900 255h1v2h-1zM901 253h1v2h-1zM902 254h1v1h-1zM903 255h1v1h-1zM904 255h1v1h-1zM905 256h1v1h-1zM906 257h1v1h-1zM907 257h1v1h-1zM908 258h1v1h-1zM909 258h1v1h-1zM910 258h1v1h-1zM911 259h1v1h-1zM912 259h1v1h-1zM913 258h1v1h-1zM914 257h1v1h-1zM915 257h1v1h-1zM916 255h1v2h-1zM917 252h1v3h-1zM918 249h1v3h-1zM919 244h1v5h-1zM920 237h1v7h-1zM921 231h1v6h-1zM922 225h1v6h-1zM923 219h1v6h-1zM924 214h1v5h-1zM925 210h1v4h-1zM926 207h1v3h-1zM927 204h1v3h-1zM928 201h1v3h-1zM929 197h1v4h-1zM930 194h1v3h-1zM931 191h1v3h-1zM932 188h1v3h-1zM933 185h1v3h-1zM934 181h1v4h-1zM935 177h1v4h-1zM936 173h1v4h-1zM937 170h1v3h-1zM938 168h1v2h-1zM939 166h1v2h-1zM940 164h1v2h-1zM941 165h1v2h-1zM942 167h1v2h-1z"/>
<path d="M357.5 58 L363.0 52.3 L360.0 52.3 L360.0 47 L355.0 47 L355.0 52.3 L352.0 52.3 Z" fill="#000"/>
<path d="M348.5 103 L354.0 108.7 L351.0 108.7 L351.0 114 L346.0 114 L346.0 108.7 L343.0 108.7 Z" fill="#000"/>
<path d="M508.3 131.7 L513.8 125.99999999999999 L510.8 125.99999999999999 L510.8 120.7 L505.8 120.7 L505.8 125.99999999999999 L502.8 125.99999999999999 Z" fill="#000"/>
<path d="M499.6 238 L505.1 243.7 L502.1 243.7 L502.1 249 L497.1 249 L497.1 243.7 L494.1 243.7 Z" fill="#000"/>
<path d="M709.5 251.5 L715.0 257.2 L712.0 257.2 L712.0 262.5 L707.0 262.5 L707.0 257.2 L704.0 257.2 Z" fill="#000"/>
<path d="M771.5 234.5 L777.0 228.8 L774.0 228.8 L774.0 223.5 L769.0 223.5 L769.0 228.8 L766.0 228.8 Z" fill="#000"/>
<path d="M784.4 304.5 L789.9 310.2 L786.9 310.2 L786.9 315.5 L781.9 315.5 L781.9 310.2 L778.9 310.2 Z" fill="#000"/>
<path d="M720.2 521 L725.7 515.3 L722.7 515.3 L722.7 510 L717.7 510 L717.7 515.3 L714.7 515.3 Z" fill="#000"/>
<path d="M761.3 561 L766.8 566.7 L763.8 566.7 L763.8 572 L758.8 572 L758.8 566.7 L755.8 566.7 Z" fill="#000"/>
<path d="M806.6 548.5 L812.1 554.2 L809.1 554.2 L809.1 559.5 L804.1 559.5 L804.1 554.2 L801.1 554.2 Z" fill="#000"/>
<rect x="322" y="13" width="30" height="13" fill="#fff"/>
<text x="325.3" y="24.8" textLength="23.3" lengthAdjust="spacingAndGlyphs" style="font-size:15.4px">106</text>
<text x="351.8" y="37" textLength="42.2" lengthAdjust="spacingAndGlyphs">3919.31</text>
<path d="M338 32.5 H350" stroke="#000" stroke-width="1" shape-rendering="crispEdges"/>
<path d="M337.5 32.5 L341 30 L341 35 Z" fill="#000"/>
<text x="820.5" y="349.8" textLength="44.5" lengthAdjust="spacingAndGlyphs">3724.19</text>
<path d="M808 345.5 H819" stroke="#000" stroke-width="1" shape-rendering="crispEdges"/>
<path d="M807.5 345.5 L811 343 L811 348 Z" fill="#000"/>
<text class="bn" x="185.8" y="280" textLength="22.6" lengthAdjust="spacingAndGlyphs">105</text>
<text class="bn" x="391.2" y="183.7" textLength="22.6" lengthAdjust="spacingAndGlyphs">107</text>
<text class="bn" x="416.8" y="79" textLength="22.6" lengthAdjust="spacingAndGlyphs">108</text>
<text class="bn" x="552.1" y="259" textLength="22.6" lengthAdjust="spacingAndGlyphs">109</text>
<text class="bn" x="630" y="105.7" textLength="22.6" lengthAdjust="spacingAndGlyphs">110</text>
<text class="bn" x="813.3" y="360" textLength="22.6" lengthAdjust="spacingAndGlyphs">111</text>
<text x="14.4" y="620.6" textLength="32" lengthAdjust="spacingAndGlyphs" style="font-weight:bold;font-size:12.4px;stroke:#000;stroke-width:0.7">MACD</text>
<rect x="1" y="616" width="3" height="1" fill="#999"/>
<path d="M60 609 H575.6 L569 624 H60 L56 616.5 Z" fill="#000"/>
<path d="M87.4 609 L88.6 609 L95.8 624 L87.8 624 L90.6 617.5 Z" fill="#fff"/>
<path d="M121.4 609 L122.6 609 L129.8 624 L121.8 624 L124.6 617.5 Z" fill="#fff"/>
<path d="M161.9 609 L163.1 609 L170.3 624 L162.3 624 L165.1 617.5 Z" fill="#fff"/>
<path d="M195.4 609 L196.6 609 L203.8 624 L195.8 624 L198.6 617.5 Z" fill="#fff"/>
<path d="M234.4 609 L235.6 609 L242.8 624 L234.8 624 L237.6 617.5 Z" fill="#fff"/>
<path d="M276.9 609 L278.1 609 L285.3 624 L277.3 624 L280.1 617.5 Z" fill="#fff"/>
<path d="M312.4 609 L313.6 609 L320.8 624 L312.8 624 L315.6 617.5 Z" fill="#fff"/>
<path d="M356.9 609 L358.1 609 L365.3 624 L357.3 624 L360.1 617.5 Z" fill="#fff"/>
<path d="M399.4 609 L400.6 609 L407.8 624 L399.8 624 L402.6 617.5 Z" fill="#fff"/>
<path d="M429.4 609 L430.6 609 L437.8 624 L429.8 624 L432.6 617.5 Z" fill="#fff"/>
<path d="M484.9 609 L486.1 609 L493.3 624 L485.3 624 L488.1 617.5 Z" fill="#fff"/>
<path d="M529.9 609 L531.1 609 L538.3 624 L530.3 624 L533.1 617.5 Z" fill="#fff"/>
<text class="tab" x="61.4" y="620.6" textLength="23.4" lengthAdjust="spacingAndGlyphs">KDJ</text>
<text class="tab" x="98.1" y="620.6" textLength="19.5" lengthAdjust="spacingAndGlyphs">RSI</text>
<text class="tab" x="131.6" y="620.6" textLength="26.5" lengthAdjust="spacingAndGlyphs">BIAS</text>
<text class="tab" x="172.7" y="620.6" textLength="19.0" lengthAdjust="spacingAndGlyphs">ASI</text>
<text class="tab" x="205.5" y="620.6" textLength="25.3" lengthAdjust="spacingAndGlyphs">OBV</text>
<text class="tab" x="244.1" y="620.6" textLength="29.7" lengthAdjust="spacingAndGlyphs">W&amp;R</text>
<text class="tab" x="287.7" y="620.6" textLength="18.4" lengthAdjust="spacingAndGlyphs">DMI</text>
<text class="tab" x="322.5" y="620.6" textLength="30.3" lengthAdjust="spacingAndGlyphs">BOLL</text>
<text class="tab" x="367.4" y="620.6" textLength="27.8" lengthAdjust="spacingAndGlyphs">MIKE</text>
<text class="tab" x="408.6" y="620.6" textLength="17.7" lengthAdjust="spacingAndGlyphs">VR</text>
<text class="tab" x="439.7" y="620.6" textLength="40.4" lengthAdjust="spacingAndGlyphs">EXPMA</text>
<text class="tab" x="494.7" y="620.6" textLength="33.6" lengthAdjust="spacingAndGlyphs">ARBR</text>
<text class="tab" x="539.7" y="620.6" textLength="26.1" lengthAdjust="spacingAndGlyphs">SAR</text>
</svg></body></html>
